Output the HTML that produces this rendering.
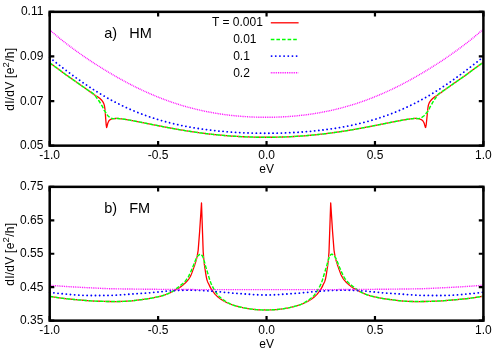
<!DOCTYPE html>
<html><head><meta charset="utf-8"><title>dI/dV</title>
<style>
html,body{margin:0;padding:0;background:#fff;}
svg{display:block;}
text{font-family:"Liberation Sans",sans-serif;font-size:12px;fill:#000;}
.big{font-size:14.5px;white-space:pre;}
</style></head><body>
<svg width="500" height="350" viewBox="0 0 500 350">
<rect width="500" height="350" fill="#fff"/>
<g>
<path d="M49.70,62.85 L50.20,63.21 L50.70,63.57 L51.20,63.93 L51.30,64.00 L51.70,64.29 L52.20,64.65 L52.70,65.01 L53.20,65.37 L53.70,65.73 L54.20,66.09 L54.70,66.46 L55.20,66.82 L55.70,67.18 L56.20,67.55 L56.70,67.91 L57.20,68.28 L57.70,68.65 L58.20,69.01 L58.70,69.38 L59.00,69.60 L59.20,69.75 L59.70,70.12 L60.20,70.49 L60.70,70.86 L61.20,71.24 L61.70,71.61 L62.20,71.99 L62.70,72.36 L63.20,72.74 L63.70,73.11 L64.20,73.48 L64.70,73.85 L65.20,74.22 L65.70,74.58 L66.00,74.80 L66.20,74.94 L66.70,75.30 L67.20,75.66 L67.70,76.01 L68.20,76.36 L68.70,76.71 L69.20,77.06 L69.70,77.41 L70.20,77.75 L70.70,78.10 L71.20,78.45 L71.70,78.79 L72.20,79.14 L72.70,79.49 L73.00,79.70 L73.20,79.84 L73.70,80.19 L74.20,80.54 L74.70,80.89 L75.20,81.24 L75.70,81.59 L76.20,81.94 L76.70,82.29 L77.20,82.64 L77.70,82.99 L78.20,83.34 L78.70,83.69 L79.20,84.04 L79.70,84.39 L80.00,84.60 L80.20,84.74 L80.70,85.09 L81.20,85.44 L81.70,85.79 L82.20,86.13 L82.70,86.48 L83.20,86.83 L83.70,87.18 L84.20,87.53 L84.70,87.88 L85.20,88.23 L85.70,88.58 L86.20,88.93 L86.70,89.29 L87.00,89.50 L87.20,89.64 L87.70,90.00 L88.20,90.37 L88.70,90.74 L89.20,91.11 L89.70,91.49 L90.20,91.86 L90.70,92.24 L91.20,92.61 L91.70,92.99 L92.20,93.35 L92.70,93.72 L93.20,94.07 L93.70,94.43 L94.20,94.77 L94.70,95.10 L95.00,95.30 L95.20,95.43 L95.70,95.73 L96.20,96.02 L96.70,96.30 L97.20,96.59 L97.70,96.90 L98.00,97.10 L98.20,97.24 L98.70,97.59 L99.20,97.95 L99.70,98.34 L100.20,98.76 L100.70,99.21 L101.00,99.50 L101.20,99.70 L101.70,100.24 L102.20,100.84 L102.70,101.55 L103.10,102.20 L103.20,102.38 L103.70,103.41 L104.20,104.84 L104.30,105.20 L104.70,107.34 L104.90,108.80 L105.20,111.82 L105.30,113.00 L105.70,118.73 L105.80,120.00 L106.20,124.89 L106.60,127.50 L106.70,127.43 L107.20,125.70 L107.70,123.60 L108.20,122.27 L108.70,121.20 L108.90,120.90 L109.20,120.54 L109.70,120.05 L110.20,119.66 L110.70,119.40 L111.20,119.21 L111.70,119.05 L112.20,118.91 L112.70,118.80 L113.20,118.72 L113.40,118.70 L113.70,118.67 L114.20,118.61 L114.70,118.57 L115.20,118.52 L115.70,118.49 L116.20,118.47 L116.70,118.45 L117.00,118.45 L117.20,118.45 L117.70,118.47 L118.20,118.51 L118.70,118.56 L119.20,118.61 L119.70,118.67 L120.00,118.70 L120.20,118.72 L120.70,118.77 L121.20,118.83 L121.70,118.89 L122.20,118.95 L122.70,119.02 L123.20,119.09 L123.70,119.16 L124.20,119.23 L124.70,119.30 L125.20,119.38 L125.70,119.45 L126.00,119.50 L126.20,119.53 L126.70,119.61 L127.20,119.69 L127.70,119.78 L128.20,119.87 L128.70,119.96 L129.20,120.05 L129.70,120.14 L130.20,120.24 L130.70,120.33 L131.20,120.43 L131.70,120.52 L132.00,120.58 L132.20,120.61 L132.70,120.71 L133.20,120.80 L133.70,120.89 L134.20,120.99 L134.70,121.08 L135.20,121.18 L135.70,121.27 L136.20,121.37 L136.70,121.46 L137.20,121.56 L137.70,121.66 L138.20,121.75 L138.70,121.85 L139.20,121.95 L139.70,122.04 L140.00,122.10 L140.20,122.14 L140.70,122.24 L141.20,122.33 L141.70,122.43 L142.20,122.53 L142.70,122.63 L143.20,122.73 L143.70,122.83 L144.20,122.93 L144.70,123.03 L145.20,123.13 L145.70,123.23 L146.20,123.33 L146.70,123.42 L147.20,123.52 L147.70,123.62 L148.00,123.68 L148.20,123.72 L148.70,123.82 L149.20,123.92 L149.70,124.02 L150.20,124.12 L150.70,124.22 L151.20,124.32 L151.70,124.42 L152.20,124.52 L152.70,124.62 L153.20,124.72 L153.70,124.82 L154.20,124.92 L154.70,125.02 L155.20,125.12 L155.70,125.22 L156.00,125.28 L156.20,125.31 L156.70,125.41 L157.20,125.51 L157.70,125.61 L158.20,125.71 L158.70,125.81 L159.20,125.90 L159.70,126.00 L160.20,126.10 L160.70,126.20 L161.20,126.30 L161.70,126.39 L162.20,126.49 L162.70,126.59 L163.20,126.68 L163.70,126.78 L164.00,126.84 L164.20,126.88 L164.70,126.97 L165.20,127.07 L165.70,127.16 L166.20,127.26 L166.70,127.35 L167.20,127.45 L167.70,127.54 L168.20,127.63 L168.70,127.73 L169.20,127.82 L169.70,127.91 L170.20,128.01 L170.70,128.10 L171.20,128.19 L171.70,128.28 L172.00,128.34 L172.20,128.37 L172.70,128.46 L173.20,128.56 L173.70,128.65 L174.20,128.74 L174.70,128.83 L175.20,128.92 L175.70,129.00 L176.20,129.09 L176.70,129.18 L177.20,129.27 L177.70,129.36 L178.20,129.44 L178.70,129.53 L179.20,129.62 L179.70,129.70 L180.00,129.75 L180.20,129.79 L180.70,129.87 L181.20,129.96 L181.70,130.04 L182.20,130.13 L182.70,130.21 L183.20,130.29 L183.70,130.38 L184.20,130.46 L184.70,130.54 L185.20,130.62 L185.70,130.70 L186.20,130.78 L186.70,130.86 L187.20,130.94 L187.70,131.02 L188.00,131.07 L188.20,131.10 L188.70,131.18 L189.20,131.26 L189.70,131.33 L190.20,131.41 L190.70,131.49 L191.20,131.56 L191.70,131.64 L192.20,131.71 L192.70,131.79 L193.20,131.86 L193.70,131.94 L194.20,132.01 L194.70,132.08 L195.20,132.15 L195.70,132.23 L196.00,132.27 L196.20,132.30 L196.70,132.37 L197.20,132.44 L197.70,132.51 L198.20,132.58 L198.70,132.65 L199.20,132.71 L199.70,132.78 L200.20,132.85 L200.70,132.92 L201.20,132.98 L201.70,133.05 L202.20,133.11 L202.70,133.18 L203.20,133.24 L203.70,133.31 L204.00,133.35 L204.20,133.37 L204.70,133.43 L205.20,133.50 L205.70,133.56 L206.20,133.62 L206.70,133.68 L207.20,133.74 L207.70,133.80 L208.20,133.86 L208.70,133.92 L209.20,133.98 L209.70,134.03 L210.20,134.09 L210.70,134.15 L211.20,134.21 L211.70,134.26 L212.00,134.29 L212.20,134.32 L212.70,134.37 L213.20,134.42 L213.70,134.48 L214.20,134.53 L214.70,134.58 L215.20,134.64 L215.70,134.69 L216.20,134.74 L216.70,134.79 L217.20,134.84 L217.70,134.89 L218.20,134.94 L218.70,134.99 L219.20,135.04 L219.70,135.08 L220.00,135.11 L220.20,135.13 L220.70,135.18 L221.20,135.22 L221.70,135.27 L222.20,135.31 L222.70,135.36 L223.20,135.40 L223.70,135.45 L224.20,135.49 L224.70,135.53 L225.20,135.57 L225.70,135.62 L226.20,135.66 L226.70,135.70 L227.20,135.74 L227.70,135.78 L228.00,135.80 L228.20,135.81 L228.70,135.85 L229.20,135.89 L229.70,135.93 L230.20,135.96 L230.70,136.00 L231.20,136.04 L231.70,136.07 L232.20,136.11 L232.70,136.14 L233.20,136.17 L233.70,136.21 L234.20,136.24 L234.70,136.27 L235.20,136.30 L235.70,136.33 L236.00,136.35 L236.20,136.36 L236.70,136.39 L237.20,136.42 L237.70,136.45 L238.20,136.48 L238.70,136.51 L239.20,136.54 L239.70,136.56 L240.20,136.59 L240.70,136.62 L241.20,136.64 L241.70,136.67 L242.20,136.69 L242.70,136.72 L243.20,136.74 L243.70,136.76 L244.00,136.78 L244.20,136.78 L244.70,136.81 L245.20,136.83 L245.70,136.85 L246.20,136.87 L246.70,136.89 L247.20,136.91 L247.70,136.93 L248.20,136.95 L248.70,136.96 L249.20,136.98 L249.70,137.00 L250.20,137.02 L250.70,137.03 L251.20,137.05 L251.70,137.06 L252.00,137.07 L252.20,137.07 L252.70,137.09 L253.20,137.10 L253.70,137.11 L254.20,137.12 L254.70,137.14 L255.20,137.15 L255.70,137.16 L256.20,137.17 L256.70,137.18 L257.20,137.19 L257.70,137.20 L258.20,137.21 L258.70,137.22 L259.20,137.22 L259.70,137.23 L260.00,137.23 L260.20,137.23 L260.70,137.24 L261.20,137.24 L261.70,137.25 L262.20,137.25 L262.70,137.25 L263.20,137.26 L263.70,137.26 L264.20,137.26 L264.70,137.27 L265.20,137.27 L265.70,137.27 L266.10,137.27 L266.50,137.27 L267.00,137.27 L267.50,137.27 L268.00,137.26 L268.50,137.26 L269.00,137.26 L269.50,137.25 L270.00,137.25 L270.50,137.25 L271.00,137.24 L271.50,137.24 L272.00,137.23 L272.20,137.23 L272.50,137.23 L273.00,137.22 L273.50,137.22 L274.00,137.21 L274.50,137.20 L275.00,137.19 L275.50,137.18 L276.00,137.17 L276.50,137.16 L277.00,137.15 L277.50,137.14 L278.00,137.12 L278.50,137.11 L279.00,137.10 L279.50,137.09 L280.00,137.07 L280.20,137.07 L280.50,137.06 L281.00,137.05 L281.50,137.03 L282.00,137.02 L282.50,137.00 L283.00,136.98 L283.50,136.96 L284.00,136.95 L284.50,136.93 L285.00,136.91 L285.50,136.89 L286.00,136.87 L286.50,136.85 L287.00,136.83 L287.50,136.81 L288.00,136.78 L288.20,136.78 L288.50,136.76 L289.00,136.74 L289.50,136.72 L290.00,136.69 L290.50,136.67 L291.00,136.64 L291.50,136.62 L292.00,136.59 L292.50,136.56 L293.00,136.54 L293.50,136.51 L294.00,136.48 L294.50,136.45 L295.00,136.42 L295.50,136.39 L296.00,136.36 L296.20,136.35 L296.50,136.33 L297.00,136.30 L297.50,136.27 L298.00,136.24 L298.50,136.21 L299.00,136.17 L299.50,136.14 L300.00,136.11 L300.50,136.07 L301.00,136.04 L301.50,136.00 L302.00,135.96 L302.50,135.93 L303.00,135.89 L303.50,135.85 L304.00,135.81 L304.20,135.80 L304.50,135.78 L305.00,135.74 L305.50,135.70 L306.00,135.66 L306.50,135.62 L307.00,135.57 L307.50,135.53 L308.00,135.49 L308.50,135.45 L309.00,135.40 L309.50,135.36 L310.00,135.31 L310.50,135.27 L311.00,135.22 L311.50,135.18 L312.00,135.13 L312.20,135.11 L312.50,135.08 L313.00,135.04 L313.50,134.99 L314.00,134.94 L314.50,134.89 L315.00,134.84 L315.50,134.79 L316.00,134.74 L316.50,134.69 L317.00,134.64 L317.50,134.58 L318.00,134.53 L318.50,134.48 L319.00,134.42 L319.50,134.37 L320.00,134.32 L320.20,134.29 L320.50,134.26 L321.00,134.21 L321.50,134.15 L322.00,134.09 L322.50,134.03 L323.00,133.98 L323.50,133.92 L324.00,133.86 L324.50,133.80 L325.00,133.74 L325.50,133.68 L326.00,133.62 L326.50,133.56 L327.00,133.50 L327.50,133.43 L328.00,133.37 L328.20,133.35 L328.50,133.31 L329.00,133.24 L329.50,133.18 L330.00,133.11 L330.50,133.05 L331.00,132.98 L331.50,132.92 L332.00,132.85 L332.50,132.78 L333.00,132.71 L333.50,132.65 L334.00,132.58 L334.50,132.51 L335.00,132.44 L335.50,132.37 L336.00,132.30 L336.20,132.27 L336.50,132.23 L337.00,132.15 L337.50,132.08 L338.00,132.01 L338.50,131.94 L339.00,131.86 L339.50,131.79 L340.00,131.71 L340.50,131.64 L341.00,131.56 L341.50,131.49 L342.00,131.41 L342.50,131.33 L343.00,131.26 L343.50,131.18 L344.00,131.10 L344.20,131.07 L344.50,131.02 L345.00,130.94 L345.50,130.86 L346.00,130.78 L346.50,130.70 L347.00,130.62 L347.50,130.54 L348.00,130.46 L348.50,130.38 L349.00,130.29 L349.50,130.21 L350.00,130.13 L350.50,130.04 L351.00,129.96 L351.50,129.87 L352.00,129.79 L352.20,129.75 L352.50,129.70 L353.00,129.62 L353.50,129.53 L354.00,129.44 L354.50,129.36 L355.00,129.27 L355.50,129.18 L356.00,129.09 L356.50,129.00 L357.00,128.92 L357.50,128.83 L358.00,128.74 L358.50,128.65 L359.00,128.56 L359.50,128.46 L360.00,128.37 L360.20,128.34 L360.50,128.28 L361.00,128.19 L361.50,128.10 L362.00,128.01 L362.50,127.91 L363.00,127.82 L363.50,127.73 L364.00,127.63 L364.50,127.54 L365.00,127.45 L365.50,127.35 L366.00,127.26 L366.50,127.16 L367.00,127.07 L367.50,126.97 L368.00,126.88 L368.20,126.84 L368.50,126.78 L369.00,126.68 L369.50,126.59 L370.00,126.49 L370.50,126.39 L371.00,126.30 L371.50,126.20 L372.00,126.10 L372.50,126.00 L373.00,125.90 L373.50,125.81 L374.00,125.71 L374.50,125.61 L375.00,125.51 L375.50,125.41 L376.00,125.31 L376.20,125.28 L376.50,125.22 L377.00,125.12 L377.50,125.02 L378.00,124.92 L378.50,124.82 L379.00,124.72 L379.50,124.62 L380.00,124.52 L380.50,124.42 L381.00,124.32 L381.50,124.22 L382.00,124.12 L382.50,124.02 L383.00,123.92 L383.50,123.82 L384.00,123.72 L384.20,123.68 L384.50,123.62 L385.00,123.52 L385.50,123.42 L386.00,123.33 L386.50,123.23 L387.00,123.13 L387.50,123.03 L388.00,122.93 L388.50,122.83 L389.00,122.73 L389.50,122.63 L390.00,122.53 L390.50,122.43 L391.00,122.33 L391.50,122.24 L392.00,122.14 L392.20,122.10 L392.50,122.04 L393.00,121.95 L393.50,121.85 L394.00,121.75 L394.50,121.66 L395.00,121.56 L395.50,121.46 L396.00,121.37 L396.50,121.27 L397.00,121.18 L397.50,121.08 L398.00,120.99 L398.50,120.89 L399.00,120.80 L399.50,120.71 L400.00,120.61 L400.20,120.58 L400.50,120.52 L401.00,120.43 L401.50,120.33 L402.00,120.24 L402.50,120.14 L403.00,120.05 L403.50,119.96 L404.00,119.87 L404.50,119.78 L405.00,119.69 L405.50,119.61 L406.00,119.53 L406.20,119.50 L406.50,119.45 L407.00,119.38 L407.50,119.30 L408.00,119.23 L408.50,119.16 L409.00,119.09 L409.50,119.02 L410.00,118.95 L410.50,118.89 L411.00,118.83 L411.50,118.77 L412.00,118.72 L412.19,118.70 L412.48,118.67 L412.95,118.61 L413.43,118.56 L413.90,118.51 L414.38,118.47 L414.85,118.45 L415.04,118.45 L415.33,118.45 L415.80,118.47 L416.28,118.49 L416.75,118.52 L417.23,118.57 L417.70,118.61 L418.08,118.67 L418.31,118.70 L418.47,118.72 L418.85,118.80 L419.23,118.91 L419.62,119.05 L420.00,119.21 L420.63,119.40 L421.25,119.66 L421.88,120.05 L422.50,120.54 L422.86,120.90 L423.10,121.20 L423.70,122.27 L424.30,123.60 L424.90,125.70 L425.50,127.43 L425.63,127.50 L426.17,124.89 L426.70,120.00 L426.83,118.73 L427.37,113.00 L427.50,111.82 L427.80,108.80 L428.00,107.34 L428.40,105.20 L428.50,104.84 L429.00,103.41 L429.50,102.38 L429.60,102.20 L430.00,101.55 L430.50,100.84 L431.00,100.24 L431.50,99.70 L431.69,99.50 L431.96,99.21 L432.43,98.76 L432.89,98.34 L433.36,97.95 L433.82,97.59 L434.29,97.24 L434.47,97.10 L434.75,96.90 L435.21,96.59 L435.68,96.30 L436.14,96.02 L436.61,95.73 L437.07,95.43 L437.26,95.30 L437.54,95.10 L438.00,94.77 L438.50,94.43 L439.00,94.07 L439.50,93.72 L440.00,93.35 L440.50,92.99 L441.00,92.61 L441.50,92.24 L442.00,91.86 L442.50,91.49 L443.00,91.11 L443.50,90.74 L444.00,90.37 L444.50,90.00 L445.00,89.64 L445.20,89.50 L445.50,89.29 L446.00,88.93 L446.50,88.58 L447.00,88.23 L447.50,87.88 L448.00,87.53 L448.50,87.18 L449.00,86.83 L449.50,86.48 L450.00,86.13 L450.50,85.79 L451.00,85.44 L451.50,85.09 L452.00,84.74 L452.20,84.60 L452.50,84.39 L453.00,84.04 L453.50,83.69 L454.00,83.34 L454.50,82.99 L455.00,82.64 L455.50,82.29 L456.00,81.94 L456.50,81.59 L457.00,81.24 L457.50,80.89 L458.00,80.54 L458.50,80.19 L459.00,79.84 L459.20,79.70 L459.50,79.49 L460.00,79.14 L460.50,78.79 L461.00,78.45 L461.50,78.10 L462.00,77.75 L462.50,77.41 L463.00,77.06 L463.50,76.71 L464.00,76.36 L464.50,76.01 L465.00,75.66 L465.50,75.30 L466.00,74.94 L466.20,74.80 L466.50,74.58 L467.00,74.22 L467.50,73.85 L468.00,73.48 L468.50,73.11 L469.00,72.74 L469.50,72.36 L470.00,71.99 L470.50,71.61 L471.00,71.24 L471.50,70.86 L472.00,70.49 L472.50,70.12 L473.00,69.75 L473.20,69.60 L473.50,69.38 L474.00,69.01 L474.50,68.65 L475.00,68.28 L475.50,67.91 L476.00,67.55 L476.50,67.18 L477.00,66.82 L477.50,66.46 L478.00,66.09 L478.50,65.73 L479.00,65.37 L479.50,65.01 L480.00,64.65 L480.50,64.29 L480.90,64.00 L481.00,63.93 L481.50,63.57 L482.00,63.21 L482.50,62.85" fill="none" stroke="#ff0000" stroke-width="1.3" stroke-linejoin="round"/>
<path d="M49.70,62.85 L50.20,63.21 L50.70,63.57 L51.20,63.93 L51.30,64.00 L51.70,64.29 L52.20,64.65 L52.70,65.01 L53.20,65.37 L53.70,65.73 L54.20,66.09 L54.70,66.46 L55.20,66.82 L55.70,67.18 L56.20,67.55 L56.70,67.91 L57.20,68.28 L57.70,68.65 L58.20,69.01 L58.70,69.38 L59.00,69.60 L59.20,69.75 L59.70,70.12 L60.20,70.49 L60.70,70.86 L61.20,71.24 L61.70,71.61 L62.20,71.99 L62.70,72.36 L63.20,72.74 L63.70,73.11 L64.20,73.48 L64.70,73.85 L65.20,74.22 L65.70,74.58 L66.00,74.80 L66.20,74.94 L66.70,75.30 L67.20,75.66 L67.70,76.01 L68.20,76.36 L68.70,76.71 L69.20,77.06 L69.70,77.41 L70.20,77.75 L70.70,78.10 L71.20,78.45 L71.70,78.79 L72.20,79.14 L72.70,79.49 L73.00,79.70 L73.20,79.84 L73.70,80.19 L74.20,80.54 L74.70,80.89 L75.20,81.24 L75.70,81.59 L76.20,81.94 L76.70,82.29 L77.20,82.64 L77.70,82.99 L78.20,83.34 L78.70,83.69 L79.20,84.04 L79.70,84.39 L80.00,84.60 L80.20,84.74 L80.70,85.09 L81.20,85.44 L81.70,85.79 L82.20,86.13 L82.70,86.48 L83.20,86.83 L83.70,87.18 L84.20,87.53 L84.70,87.88 L85.20,88.23 L85.70,88.58 L86.20,88.93 L86.70,89.29 L87.00,89.50 L87.20,89.64 L87.70,89.98 L88.20,90.31 L88.70,90.62 L89.20,90.94 L89.70,91.24 L90.20,91.55 L90.70,91.87 L91.20,92.19 L91.70,92.52 L92.20,92.87 L92.70,93.24 L93.20,93.63 L93.70,94.05 L94.20,94.51 L94.70,94.99 L95.00,95.30 L95.20,95.53 L95.70,96.26 L96.20,97.08 L96.70,97.86 L96.80,98.00 L97.20,98.51 L97.70,99.11 L98.00,99.50 L98.20,99.77 L98.70,100.49 L99.20,101.25 L99.70,102.04 L99.80,102.20 L100.20,102.88 L100.70,103.77 L101.00,104.30 L101.20,104.63 L101.70,105.43 L102.20,106.22 L102.70,107.11 L102.80,107.30 L103.20,108.23 L103.70,109.40 L104.20,110.26 L104.70,110.99 L105.20,111.70 L105.60,112.30 L105.70,112.46 L106.20,113.33 L106.70,114.16 L106.80,114.30 L107.20,114.84 L107.70,115.47 L108.20,116.03 L108.70,116.53 L108.90,116.70 L109.20,116.95 L109.70,117.33 L110.20,117.65 L110.70,117.90 L111.20,118.10 L111.70,118.29 L112.20,118.46 L112.70,118.58 L113.20,118.64 L113.40,118.65 L113.70,118.65 L114.20,118.62 L114.70,118.59 L115.20,118.55 L115.70,118.51 L116.20,118.48 L116.70,118.45 L117.00,118.45 L117.20,118.45 L117.70,118.47 L118.20,118.51 L118.70,118.56 L119.20,118.61 L119.70,118.67 L120.00,118.70 L120.20,118.72 L120.70,118.77 L121.20,118.83 L121.70,118.89 L122.20,118.95 L122.70,119.02 L123.20,119.09 L123.70,119.16 L124.20,119.23 L124.70,119.30 L125.20,119.38 L125.70,119.45 L126.00,119.50 L126.20,119.53 L126.70,119.61 L127.20,119.69 L127.70,119.78 L128.20,119.87 L128.70,119.96 L129.20,120.05 L129.70,120.14 L130.20,120.24 L130.70,120.33 L131.20,120.43 L131.70,120.52 L132.00,120.58 L132.20,120.61 L132.70,120.71 L133.20,120.80 L133.70,120.89 L134.20,120.99 L134.70,121.08 L135.20,121.18 L135.70,121.27 L136.20,121.37 L136.70,121.46 L137.20,121.56 L137.70,121.66 L138.20,121.75 L138.70,121.85 L139.20,121.95 L139.70,122.04 L140.00,122.10 L140.20,122.14 L140.70,122.24 L141.20,122.33 L141.70,122.43 L142.20,122.53 L142.70,122.63 L143.20,122.73 L143.70,122.83 L144.20,122.93 L144.70,123.03 L145.20,123.13 L145.70,123.23 L146.20,123.33 L146.70,123.42 L147.20,123.52 L147.70,123.62 L148.00,123.68 L148.20,123.72 L148.70,123.82 L149.20,123.92 L149.70,124.02 L150.20,124.12 L150.70,124.22 L151.20,124.32 L151.70,124.42 L152.20,124.52 L152.70,124.62 L153.20,124.72 L153.70,124.82 L154.20,124.92 L154.70,125.02 L155.20,125.12 L155.70,125.22 L156.00,125.28 L156.20,125.31 L156.70,125.41 L157.20,125.51 L157.70,125.61 L158.20,125.71 L158.70,125.81 L159.20,125.90 L159.70,126.00 L160.20,126.10 L160.70,126.20 L161.20,126.30 L161.70,126.39 L162.20,126.49 L162.70,126.59 L163.20,126.68 L163.70,126.78 L164.00,126.84 L164.20,126.88 L164.70,126.97 L165.20,127.07 L165.70,127.16 L166.20,127.26 L166.70,127.35 L167.20,127.45 L167.70,127.54 L168.20,127.63 L168.70,127.73 L169.20,127.82 L169.70,127.91 L170.20,128.01 L170.70,128.10 L171.20,128.19 L171.70,128.28 L172.00,128.34 L172.20,128.37 L172.70,128.46 L173.20,128.56 L173.70,128.65 L174.20,128.74 L174.70,128.83 L175.20,128.92 L175.70,129.00 L176.20,129.09 L176.70,129.18 L177.20,129.27 L177.70,129.36 L178.20,129.44 L178.70,129.53 L179.20,129.62 L179.70,129.70 L180.00,129.75 L180.20,129.79 L180.70,129.87 L181.20,129.96 L181.70,130.04 L182.20,130.13 L182.70,130.21 L183.20,130.29 L183.70,130.38 L184.20,130.46 L184.70,130.54 L185.20,130.62 L185.70,130.70 L186.20,130.78 L186.70,130.86 L187.20,130.94 L187.70,131.02 L188.00,131.07 L188.20,131.10 L188.70,131.18 L189.20,131.26 L189.70,131.33 L190.20,131.41 L190.70,131.49 L191.20,131.56 L191.70,131.64 L192.20,131.71 L192.70,131.79 L193.20,131.86 L193.70,131.94 L194.20,132.01 L194.70,132.08 L195.20,132.15 L195.70,132.23 L196.00,132.27 L196.20,132.30 L196.70,132.37 L197.20,132.44 L197.70,132.51 L198.20,132.58 L198.70,132.65 L199.20,132.71 L199.70,132.78 L200.20,132.85 L200.70,132.92 L201.20,132.98 L201.70,133.05 L202.20,133.11 L202.70,133.18 L203.20,133.24 L203.70,133.31 L204.00,133.35 L204.20,133.37 L204.70,133.43 L205.20,133.50 L205.70,133.56 L206.20,133.62 L206.70,133.68 L207.20,133.74 L207.70,133.80 L208.20,133.86 L208.70,133.92 L209.20,133.98 L209.70,134.03 L210.20,134.09 L210.70,134.15 L211.20,134.21 L211.70,134.26 L212.00,134.29 L212.20,134.32 L212.70,134.37 L213.20,134.42 L213.70,134.48 L214.20,134.53 L214.70,134.58 L215.20,134.64 L215.70,134.69 L216.20,134.74 L216.70,134.79 L217.20,134.84 L217.70,134.89 L218.20,134.94 L218.70,134.99 L219.20,135.04 L219.70,135.08 L220.00,135.11 L220.20,135.13 L220.70,135.18 L221.20,135.22 L221.70,135.27 L222.20,135.31 L222.70,135.36 L223.20,135.40 L223.70,135.45 L224.20,135.49 L224.70,135.53 L225.20,135.57 L225.70,135.62 L226.20,135.66 L226.70,135.70 L227.20,135.74 L227.70,135.78 L228.00,135.80 L228.20,135.81 L228.70,135.85 L229.20,135.89 L229.70,135.93 L230.20,135.96 L230.70,136.00 L231.20,136.04 L231.70,136.07 L232.20,136.11 L232.70,136.14 L233.20,136.17 L233.70,136.21 L234.20,136.24 L234.70,136.27 L235.20,136.30 L235.70,136.33 L236.00,136.35 L236.20,136.36 L236.70,136.39 L237.20,136.42 L237.70,136.45 L238.20,136.48 L238.70,136.51 L239.20,136.54 L239.70,136.56 L240.20,136.59 L240.70,136.62 L241.20,136.64 L241.70,136.67 L242.20,136.69 L242.70,136.72 L243.20,136.74 L243.70,136.76 L244.00,136.78 L244.20,136.78 L244.70,136.81 L245.20,136.83 L245.70,136.85 L246.20,136.87 L246.70,136.89 L247.20,136.91 L247.70,136.93 L248.20,136.95 L248.70,136.96 L249.20,136.98 L249.70,137.00 L250.20,137.02 L250.70,137.03 L251.20,137.05 L251.70,137.06 L252.00,137.07 L252.20,137.07 L252.70,137.09 L253.20,137.10 L253.70,137.11 L254.20,137.12 L254.70,137.14 L255.20,137.15 L255.70,137.16 L256.20,137.17 L256.70,137.18 L257.20,137.19 L257.70,137.20 L258.20,137.21 L258.70,137.22 L259.20,137.22 L259.70,137.23 L260.00,137.23 L260.20,137.23 L260.70,137.24 L261.20,137.24 L261.70,137.25 L262.20,137.25 L262.70,137.25 L263.20,137.26 L263.70,137.26 L264.20,137.26 L264.70,137.27 L265.20,137.27 L265.70,137.27 L266.10,137.27 L266.50,137.27 L267.00,137.27 L267.50,137.27 L268.00,137.26 L268.50,137.26 L269.00,137.26 L269.50,137.25 L270.00,137.25 L270.50,137.25 L271.00,137.24 L271.50,137.24 L272.00,137.23 L272.20,137.23 L272.50,137.23 L273.00,137.22 L273.50,137.22 L274.00,137.21 L274.50,137.20 L275.00,137.19 L275.50,137.18 L276.00,137.17 L276.50,137.16 L277.00,137.15 L277.50,137.14 L278.00,137.12 L278.50,137.11 L279.00,137.10 L279.50,137.09 L280.00,137.07 L280.20,137.07 L280.50,137.06 L281.00,137.05 L281.50,137.03 L282.00,137.02 L282.50,137.00 L283.00,136.98 L283.50,136.96 L284.00,136.95 L284.50,136.93 L285.00,136.91 L285.50,136.89 L286.00,136.87 L286.50,136.85 L287.00,136.83 L287.50,136.81 L288.00,136.78 L288.20,136.78 L288.50,136.76 L289.00,136.74 L289.50,136.72 L290.00,136.69 L290.50,136.67 L291.00,136.64 L291.50,136.62 L292.00,136.59 L292.50,136.56 L293.00,136.54 L293.50,136.51 L294.00,136.48 L294.50,136.45 L295.00,136.42 L295.50,136.39 L296.00,136.36 L296.20,136.35 L296.50,136.33 L297.00,136.30 L297.50,136.27 L298.00,136.24 L298.50,136.21 L299.00,136.17 L299.50,136.14 L300.00,136.11 L300.50,136.07 L301.00,136.04 L301.50,136.00 L302.00,135.96 L302.50,135.93 L303.00,135.89 L303.50,135.85 L304.00,135.81 L304.20,135.80 L304.50,135.78 L305.00,135.74 L305.50,135.70 L306.00,135.66 L306.50,135.62 L307.00,135.57 L307.50,135.53 L308.00,135.49 L308.50,135.45 L309.00,135.40 L309.50,135.36 L310.00,135.31 L310.50,135.27 L311.00,135.22 L311.50,135.18 L312.00,135.13 L312.20,135.11 L312.50,135.08 L313.00,135.04 L313.50,134.99 L314.00,134.94 L314.50,134.89 L315.00,134.84 L315.50,134.79 L316.00,134.74 L316.50,134.69 L317.00,134.64 L317.50,134.58 L318.00,134.53 L318.50,134.48 L319.00,134.42 L319.50,134.37 L320.00,134.32 L320.20,134.29 L320.50,134.26 L321.00,134.21 L321.50,134.15 L322.00,134.09 L322.50,134.03 L323.00,133.98 L323.50,133.92 L324.00,133.86 L324.50,133.80 L325.00,133.74 L325.50,133.68 L326.00,133.62 L326.50,133.56 L327.00,133.50 L327.50,133.43 L328.00,133.37 L328.20,133.35 L328.50,133.31 L329.00,133.24 L329.50,133.18 L330.00,133.11 L330.50,133.05 L331.00,132.98 L331.50,132.92 L332.00,132.85 L332.50,132.78 L333.00,132.71 L333.50,132.65 L334.00,132.58 L334.50,132.51 L335.00,132.44 L335.50,132.37 L336.00,132.30 L336.20,132.27 L336.50,132.23 L337.00,132.15 L337.50,132.08 L338.00,132.01 L338.50,131.94 L339.00,131.86 L339.50,131.79 L340.00,131.71 L340.50,131.64 L341.00,131.56 L341.50,131.49 L342.00,131.41 L342.50,131.33 L343.00,131.26 L343.50,131.18 L344.00,131.10 L344.20,131.07 L344.50,131.02 L345.00,130.94 L345.50,130.86 L346.00,130.78 L346.50,130.70 L347.00,130.62 L347.50,130.54 L348.00,130.46 L348.50,130.38 L349.00,130.29 L349.50,130.21 L350.00,130.13 L350.50,130.04 L351.00,129.96 L351.50,129.87 L352.00,129.79 L352.20,129.75 L352.50,129.70 L353.00,129.62 L353.50,129.53 L354.00,129.44 L354.50,129.36 L355.00,129.27 L355.50,129.18 L356.00,129.09 L356.50,129.00 L357.00,128.92 L357.50,128.83 L358.00,128.74 L358.50,128.65 L359.00,128.56 L359.50,128.46 L360.00,128.37 L360.20,128.34 L360.50,128.28 L361.00,128.19 L361.50,128.10 L362.00,128.01 L362.50,127.91 L363.00,127.82 L363.50,127.73 L364.00,127.63 L364.50,127.54 L365.00,127.45 L365.50,127.35 L366.00,127.26 L366.50,127.16 L367.00,127.07 L367.50,126.97 L368.00,126.88 L368.20,126.84 L368.50,126.78 L369.00,126.68 L369.50,126.59 L370.00,126.49 L370.50,126.39 L371.00,126.30 L371.50,126.20 L372.00,126.10 L372.50,126.00 L373.00,125.90 L373.50,125.81 L374.00,125.71 L374.50,125.61 L375.00,125.51 L375.50,125.41 L376.00,125.31 L376.20,125.28 L376.50,125.22 L377.00,125.12 L377.50,125.02 L378.00,124.92 L378.50,124.82 L379.00,124.72 L379.50,124.62 L380.00,124.52 L380.50,124.42 L381.00,124.32 L381.50,124.22 L382.00,124.12 L382.50,124.02 L383.00,123.92 L383.50,123.82 L384.00,123.72 L384.20,123.68 L384.50,123.62 L385.00,123.52 L385.50,123.42 L386.00,123.33 L386.50,123.23 L387.00,123.13 L387.50,123.03 L388.00,122.93 L388.50,122.83 L389.00,122.73 L389.50,122.63 L390.00,122.53 L390.50,122.43 L391.00,122.33 L391.50,122.24 L392.00,122.14 L392.20,122.10 L392.50,122.04 L393.00,121.95 L393.50,121.85 L394.00,121.75 L394.50,121.66 L395.00,121.56 L395.50,121.46 L396.00,121.37 L396.50,121.27 L397.00,121.18 L397.50,121.08 L398.00,120.99 L398.50,120.89 L399.00,120.80 L399.50,120.71 L400.00,120.61 L400.20,120.58 L400.50,120.52 L401.00,120.43 L401.50,120.33 L402.00,120.24 L402.50,120.14 L403.00,120.05 L403.50,119.96 L404.00,119.87 L404.50,119.78 L405.00,119.69 L405.50,119.61 L406.00,119.53 L406.20,119.50 L406.50,119.45 L407.00,119.38 L407.50,119.30 L408.00,119.23 L408.50,119.16 L409.00,119.09 L409.50,119.02 L410.00,118.95 L410.50,118.89 L411.00,118.83 L411.50,118.77 L412.00,118.72 L412.19,118.70 L412.48,118.67 L412.95,118.61 L413.43,118.56 L413.90,118.51 L414.38,118.47 L414.85,118.45 L415.04,118.45 L415.33,118.45 L415.80,118.48 L416.28,118.51 L416.75,118.55 L417.23,118.59 L417.70,118.62 L418.08,118.65 L418.31,118.65 L418.47,118.64 L418.85,118.58 L419.23,118.46 L419.62,118.29 L420.00,118.10 L420.63,117.90 L421.25,117.65 L421.88,117.33 L422.50,116.95 L422.86,116.70 L423.10,116.53 L423.70,116.03 L424.30,115.47 L424.90,114.84 L425.38,114.30 L425.50,114.16 L426.17,113.33 L426.83,112.46 L426.97,112.30 L427.50,111.70 L428.00,110.99 L428.50,110.26 L429.00,109.40 L429.50,108.23 L429.90,107.30 L430.00,107.11 L430.50,106.22 L431.00,105.43 L431.50,104.63 L431.69,104.30 L431.96,103.77 L432.43,102.88 L432.80,102.20 L432.89,102.04 L433.36,101.25 L433.82,100.49 L434.29,99.77 L434.47,99.50 L434.75,99.11 L435.21,98.51 L435.59,98.00 L435.68,97.86 L436.14,97.08 L436.61,96.26 L437.07,95.53 L437.26,95.30 L437.54,94.99 L438.00,94.51 L438.50,94.05 L439.00,93.63 L439.50,93.24 L440.00,92.87 L440.50,92.52 L441.00,92.19 L441.50,91.87 L442.00,91.55 L442.50,91.24 L443.00,90.94 L443.50,90.62 L444.00,90.31 L444.50,89.98 L445.00,89.64 L445.20,89.50 L445.50,89.29 L446.00,88.93 L446.50,88.58 L447.00,88.23 L447.50,87.88 L448.00,87.53 L448.50,87.18 L449.00,86.83 L449.50,86.48 L450.00,86.13 L450.50,85.79 L451.00,85.44 L451.50,85.09 L452.00,84.74 L452.20,84.60 L452.50,84.39 L453.00,84.04 L453.50,83.69 L454.00,83.34 L454.50,82.99 L455.00,82.64 L455.50,82.29 L456.00,81.94 L456.50,81.59 L457.00,81.24 L457.50,80.89 L458.00,80.54 L458.50,80.19 L459.00,79.84 L459.20,79.70 L459.50,79.49 L460.00,79.14 L460.50,78.79 L461.00,78.45 L461.50,78.10 L462.00,77.75 L462.50,77.41 L463.00,77.06 L463.50,76.71 L464.00,76.36 L464.50,76.01 L465.00,75.66 L465.50,75.30 L466.00,74.94 L466.20,74.80 L466.50,74.58 L467.00,74.22 L467.50,73.85 L468.00,73.48 L468.50,73.11 L469.00,72.74 L469.50,72.36 L470.00,71.99 L470.50,71.61 L471.00,71.24 L471.50,70.86 L472.00,70.49 L472.50,70.12 L473.00,69.75 L473.20,69.60 L473.50,69.38 L474.00,69.01 L474.50,68.65 L475.00,68.28 L475.50,67.91 L476.00,67.55 L476.50,67.18 L477.00,66.82 L477.50,66.46 L478.00,66.09 L478.50,65.73 L479.00,65.37 L479.50,65.01 L480.00,64.65 L480.50,64.29 L480.90,64.00 L481.00,63.93 L481.50,63.57 L482.00,63.21 L482.50,62.85" fill="none" stroke="#ffffff" stroke-width="1.5" stroke-dasharray="3.9 1.7"/>
<path d="M49.70,62.85 L50.20,63.21 L50.70,63.57 L51.20,63.93 L51.30,64.00 L51.70,64.29 L52.20,64.65 L52.70,65.01 L53.20,65.37 L53.70,65.73 L54.20,66.09 L54.70,66.46 L55.20,66.82 L55.70,67.18 L56.20,67.55 L56.70,67.91 L57.20,68.28 L57.70,68.65 L58.20,69.01 L58.70,69.38 L59.00,69.60 L59.20,69.75 L59.70,70.12 L60.20,70.49 L60.70,70.86 L61.20,71.24 L61.70,71.61 L62.20,71.99 L62.70,72.36 L63.20,72.74 L63.70,73.11 L64.20,73.48 L64.70,73.85 L65.20,74.22 L65.70,74.58 L66.00,74.80 L66.20,74.94 L66.70,75.30 L67.20,75.66 L67.70,76.01 L68.20,76.36 L68.70,76.71 L69.20,77.06 L69.70,77.41 L70.20,77.75 L70.70,78.10 L71.20,78.45 L71.70,78.79 L72.20,79.14 L72.70,79.49 L73.00,79.70 L73.20,79.84 L73.70,80.19 L74.20,80.54 L74.70,80.89 L75.20,81.24 L75.70,81.59 L76.20,81.94 L76.70,82.29 L77.20,82.64 L77.70,82.99 L78.20,83.34 L78.70,83.69 L79.20,84.04 L79.70,84.39 L80.00,84.60 L80.20,84.74 L80.70,85.09 L81.20,85.44 L81.70,85.79 L82.20,86.13 L82.70,86.48 L83.20,86.83 L83.70,87.18 L84.20,87.53 L84.70,87.88 L85.20,88.23 L85.70,88.58 L86.20,88.93 L86.70,89.29 L87.00,89.50 L87.20,89.64 L87.70,89.98 L88.20,90.31 L88.70,90.62 L89.20,90.94 L89.70,91.24 L90.20,91.55 L90.70,91.87 L91.20,92.19 L91.70,92.52 L92.20,92.87 L92.70,93.24 L93.20,93.63 L93.70,94.05 L94.20,94.51 L94.70,94.99 L95.00,95.30 L95.20,95.53 L95.70,96.26 L96.20,97.08 L96.70,97.86 L96.80,98.00 L97.20,98.51 L97.70,99.11 L98.00,99.50 L98.20,99.77 L98.70,100.49 L99.20,101.25 L99.70,102.04 L99.80,102.20 L100.20,102.88 L100.70,103.77 L101.00,104.30 L101.20,104.63 L101.70,105.43 L102.20,106.22 L102.70,107.11 L102.80,107.30 L103.20,108.23 L103.70,109.40 L104.20,110.26 L104.70,110.99 L105.20,111.70 L105.60,112.30 L105.70,112.46 L106.20,113.33 L106.70,114.16 L106.80,114.30 L107.20,114.84 L107.70,115.47 L108.20,116.03 L108.70,116.53 L108.90,116.70 L109.20,116.95 L109.70,117.33 L110.20,117.65 L110.70,117.90 L111.20,118.10 L111.70,118.29 L112.20,118.46 L112.70,118.58 L113.20,118.64 L113.40,118.65 L113.70,118.65 L114.20,118.62 L114.70,118.59 L115.20,118.55 L115.70,118.51 L116.20,118.48 L116.70,118.45 L117.00,118.45 L117.20,118.45 L117.70,118.47 L118.20,118.51 L118.70,118.56 L119.20,118.61 L119.70,118.67 L120.00,118.70 L120.20,118.72 L120.70,118.77 L121.20,118.83 L121.70,118.89 L122.20,118.95 L122.70,119.02 L123.20,119.09 L123.70,119.16 L124.20,119.23 L124.70,119.30 L125.20,119.38 L125.70,119.45 L126.00,119.50 L126.20,119.53 L126.70,119.61 L127.20,119.69 L127.70,119.78 L128.20,119.87 L128.70,119.96 L129.20,120.05 L129.70,120.14 L130.20,120.24 L130.70,120.33 L131.20,120.43 L131.70,120.52 L132.00,120.58 L132.20,120.61 L132.70,120.71 L133.20,120.80 L133.70,120.89 L134.20,120.99 L134.70,121.08 L135.20,121.18 L135.70,121.27 L136.20,121.37 L136.70,121.46 L137.20,121.56 L137.70,121.66 L138.20,121.75 L138.70,121.85 L139.20,121.95 L139.70,122.04 L140.00,122.10 L140.20,122.14 L140.70,122.24 L141.20,122.33 L141.70,122.43 L142.20,122.53 L142.70,122.63 L143.20,122.73 L143.70,122.83 L144.20,122.93 L144.70,123.03 L145.20,123.13 L145.70,123.23 L146.20,123.33 L146.70,123.42 L147.20,123.52 L147.70,123.62 L148.00,123.68 L148.20,123.72 L148.70,123.82 L149.20,123.92 L149.70,124.02 L150.20,124.12 L150.70,124.22 L151.20,124.32 L151.70,124.42 L152.20,124.52 L152.70,124.62 L153.20,124.72 L153.70,124.82 L154.20,124.92 L154.70,125.02 L155.20,125.12 L155.70,125.22 L156.00,125.28 L156.20,125.31 L156.70,125.41 L157.20,125.51 L157.70,125.61 L158.20,125.71 L158.70,125.81 L159.20,125.90 L159.70,126.00 L160.20,126.10 L160.70,126.20 L161.20,126.30 L161.70,126.39 L162.20,126.49 L162.70,126.59 L163.20,126.68 L163.70,126.78 L164.00,126.84 L164.20,126.88 L164.70,126.97 L165.20,127.07 L165.70,127.16 L166.20,127.26 L166.70,127.35 L167.20,127.45 L167.70,127.54 L168.20,127.63 L168.70,127.73 L169.20,127.82 L169.70,127.91 L170.20,128.01 L170.70,128.10 L171.20,128.19 L171.70,128.28 L172.00,128.34 L172.20,128.37 L172.70,128.46 L173.20,128.56 L173.70,128.65 L174.20,128.74 L174.70,128.83 L175.20,128.92 L175.70,129.00 L176.20,129.09 L176.70,129.18 L177.20,129.27 L177.70,129.36 L178.20,129.44 L178.70,129.53 L179.20,129.62 L179.70,129.70 L180.00,129.75 L180.20,129.79 L180.70,129.87 L181.20,129.96 L181.70,130.04 L182.20,130.13 L182.70,130.21 L183.20,130.29 L183.70,130.38 L184.20,130.46 L184.70,130.54 L185.20,130.62 L185.70,130.70 L186.20,130.78 L186.70,130.86 L187.20,130.94 L187.70,131.02 L188.00,131.07 L188.20,131.10 L188.70,131.18 L189.20,131.26 L189.70,131.33 L190.20,131.41 L190.70,131.49 L191.20,131.56 L191.70,131.64 L192.20,131.71 L192.70,131.79 L193.20,131.86 L193.70,131.94 L194.20,132.01 L194.70,132.08 L195.20,132.15 L195.70,132.23 L196.00,132.27 L196.20,132.30 L196.70,132.37 L197.20,132.44 L197.70,132.51 L198.20,132.58 L198.70,132.65 L199.20,132.71 L199.70,132.78 L200.20,132.85 L200.70,132.92 L201.20,132.98 L201.70,133.05 L202.20,133.11 L202.70,133.18 L203.20,133.24 L203.70,133.31 L204.00,133.35 L204.20,133.37 L204.70,133.43 L205.20,133.50 L205.70,133.56 L206.20,133.62 L206.70,133.68 L207.20,133.74 L207.70,133.80 L208.20,133.86 L208.70,133.92 L209.20,133.98 L209.70,134.03 L210.20,134.09 L210.70,134.15 L211.20,134.21 L211.70,134.26 L212.00,134.29 L212.20,134.32 L212.70,134.37 L213.20,134.42 L213.70,134.48 L214.20,134.53 L214.70,134.58 L215.20,134.64 L215.70,134.69 L216.20,134.74 L216.70,134.79 L217.20,134.84 L217.70,134.89 L218.20,134.94 L218.70,134.99 L219.20,135.04 L219.70,135.08 L220.00,135.11 L220.20,135.13 L220.70,135.18 L221.20,135.22 L221.70,135.27 L222.20,135.31 L222.70,135.36 L223.20,135.40 L223.70,135.45 L224.20,135.49 L224.70,135.53 L225.20,135.57 L225.70,135.62 L226.20,135.66 L226.70,135.70 L227.20,135.74 L227.70,135.78 L228.00,135.80 L228.20,135.81 L228.70,135.85 L229.20,135.89 L229.70,135.93 L230.20,135.96 L230.70,136.00 L231.20,136.04 L231.70,136.07 L232.20,136.11 L232.70,136.14 L233.20,136.17 L233.70,136.21 L234.20,136.24 L234.70,136.27 L235.20,136.30 L235.70,136.33 L236.00,136.35 L236.20,136.36 L236.70,136.39 L237.20,136.42 L237.70,136.45 L238.20,136.48 L238.70,136.51 L239.20,136.54 L239.70,136.56 L240.20,136.59 L240.70,136.62 L241.20,136.64 L241.70,136.67 L242.20,136.69 L242.70,136.72 L243.20,136.74 L243.70,136.76 L244.00,136.78 L244.20,136.78 L244.70,136.81 L245.20,136.83 L245.70,136.85 L246.20,136.87 L246.70,136.89 L247.20,136.91 L247.70,136.93 L248.20,136.95 L248.70,136.96 L249.20,136.98 L249.70,137.00 L250.20,137.02 L250.70,137.03 L251.20,137.05 L251.70,137.06 L252.00,137.07 L252.20,137.07 L252.70,137.09 L253.20,137.10 L253.70,137.11 L254.20,137.12 L254.70,137.14 L255.20,137.15 L255.70,137.16 L256.20,137.17 L256.70,137.18 L257.20,137.19 L257.70,137.20 L258.20,137.21 L258.70,137.22 L259.20,137.22 L259.70,137.23 L260.00,137.23 L260.20,137.23 L260.70,137.24 L261.20,137.24 L261.70,137.25 L262.20,137.25 L262.70,137.25 L263.20,137.26 L263.70,137.26 L264.20,137.26 L264.70,137.27 L265.20,137.27 L265.70,137.27 L266.10,137.27 L266.50,137.27 L267.00,137.27 L267.50,137.27 L268.00,137.26 L268.50,137.26 L269.00,137.26 L269.50,137.25 L270.00,137.25 L270.50,137.25 L271.00,137.24 L271.50,137.24 L272.00,137.23 L272.20,137.23 L272.50,137.23 L273.00,137.22 L273.50,137.22 L274.00,137.21 L274.50,137.20 L275.00,137.19 L275.50,137.18 L276.00,137.17 L276.50,137.16 L277.00,137.15 L277.50,137.14 L278.00,137.12 L278.50,137.11 L279.00,137.10 L279.50,137.09 L280.00,137.07 L280.20,137.07 L280.50,137.06 L281.00,137.05 L281.50,137.03 L282.00,137.02 L282.50,137.00 L283.00,136.98 L283.50,136.96 L284.00,136.95 L284.50,136.93 L285.00,136.91 L285.50,136.89 L286.00,136.87 L286.50,136.85 L287.00,136.83 L287.50,136.81 L288.00,136.78 L288.20,136.78 L288.50,136.76 L289.00,136.74 L289.50,136.72 L290.00,136.69 L290.50,136.67 L291.00,136.64 L291.50,136.62 L292.00,136.59 L292.50,136.56 L293.00,136.54 L293.50,136.51 L294.00,136.48 L294.50,136.45 L295.00,136.42 L295.50,136.39 L296.00,136.36 L296.20,136.35 L296.50,136.33 L297.00,136.30 L297.50,136.27 L298.00,136.24 L298.50,136.21 L299.00,136.17 L299.50,136.14 L300.00,136.11 L300.50,136.07 L301.00,136.04 L301.50,136.00 L302.00,135.96 L302.50,135.93 L303.00,135.89 L303.50,135.85 L304.00,135.81 L304.20,135.80 L304.50,135.78 L305.00,135.74 L305.50,135.70 L306.00,135.66 L306.50,135.62 L307.00,135.57 L307.50,135.53 L308.00,135.49 L308.50,135.45 L309.00,135.40 L309.50,135.36 L310.00,135.31 L310.50,135.27 L311.00,135.22 L311.50,135.18 L312.00,135.13 L312.20,135.11 L312.50,135.08 L313.00,135.04 L313.50,134.99 L314.00,134.94 L314.50,134.89 L315.00,134.84 L315.50,134.79 L316.00,134.74 L316.50,134.69 L317.00,134.64 L317.50,134.58 L318.00,134.53 L318.50,134.48 L319.00,134.42 L319.50,134.37 L320.00,134.32 L320.20,134.29 L320.50,134.26 L321.00,134.21 L321.50,134.15 L322.00,134.09 L322.50,134.03 L323.00,133.98 L323.50,133.92 L324.00,133.86 L324.50,133.80 L325.00,133.74 L325.50,133.68 L326.00,133.62 L326.50,133.56 L327.00,133.50 L327.50,133.43 L328.00,133.37 L328.20,133.35 L328.50,133.31 L329.00,133.24 L329.50,133.18 L330.00,133.11 L330.50,133.05 L331.00,132.98 L331.50,132.92 L332.00,132.85 L332.50,132.78 L333.00,132.71 L333.50,132.65 L334.00,132.58 L334.50,132.51 L335.00,132.44 L335.50,132.37 L336.00,132.30 L336.20,132.27 L336.50,132.23 L337.00,132.15 L337.50,132.08 L338.00,132.01 L338.50,131.94 L339.00,131.86 L339.50,131.79 L340.00,131.71 L340.50,131.64 L341.00,131.56 L341.50,131.49 L342.00,131.41 L342.50,131.33 L343.00,131.26 L343.50,131.18 L344.00,131.10 L344.20,131.07 L344.50,131.02 L345.00,130.94 L345.50,130.86 L346.00,130.78 L346.50,130.70 L347.00,130.62 L347.50,130.54 L348.00,130.46 L348.50,130.38 L349.00,130.29 L349.50,130.21 L350.00,130.13 L350.50,130.04 L351.00,129.96 L351.50,129.87 L352.00,129.79 L352.20,129.75 L352.50,129.70 L353.00,129.62 L353.50,129.53 L354.00,129.44 L354.50,129.36 L355.00,129.27 L355.50,129.18 L356.00,129.09 L356.50,129.00 L357.00,128.92 L357.50,128.83 L358.00,128.74 L358.50,128.65 L359.00,128.56 L359.50,128.46 L360.00,128.37 L360.20,128.34 L360.50,128.28 L361.00,128.19 L361.50,128.10 L362.00,128.01 L362.50,127.91 L363.00,127.82 L363.50,127.73 L364.00,127.63 L364.50,127.54 L365.00,127.45 L365.50,127.35 L366.00,127.26 L366.50,127.16 L367.00,127.07 L367.50,126.97 L368.00,126.88 L368.20,126.84 L368.50,126.78 L369.00,126.68 L369.50,126.59 L370.00,126.49 L370.50,126.39 L371.00,126.30 L371.50,126.20 L372.00,126.10 L372.50,126.00 L373.00,125.90 L373.50,125.81 L374.00,125.71 L374.50,125.61 L375.00,125.51 L375.50,125.41 L376.00,125.31 L376.20,125.28 L376.50,125.22 L377.00,125.12 L377.50,125.02 L378.00,124.92 L378.50,124.82 L379.00,124.72 L379.50,124.62 L380.00,124.52 L380.50,124.42 L381.00,124.32 L381.50,124.22 L382.00,124.12 L382.50,124.02 L383.00,123.92 L383.50,123.82 L384.00,123.72 L384.20,123.68 L384.50,123.62 L385.00,123.52 L385.50,123.42 L386.00,123.33 L386.50,123.23 L387.00,123.13 L387.50,123.03 L388.00,122.93 L388.50,122.83 L389.00,122.73 L389.50,122.63 L390.00,122.53 L390.50,122.43 L391.00,122.33 L391.50,122.24 L392.00,122.14 L392.20,122.10 L392.50,122.04 L393.00,121.95 L393.50,121.85 L394.00,121.75 L394.50,121.66 L395.00,121.56 L395.50,121.46 L396.00,121.37 L396.50,121.27 L397.00,121.18 L397.50,121.08 L398.00,120.99 L398.50,120.89 L399.00,120.80 L399.50,120.71 L400.00,120.61 L400.20,120.58 L400.50,120.52 L401.00,120.43 L401.50,120.33 L402.00,120.24 L402.50,120.14 L403.00,120.05 L403.50,119.96 L404.00,119.87 L404.50,119.78 L405.00,119.69 L405.50,119.61 L406.00,119.53 L406.20,119.50 L406.50,119.45 L407.00,119.38 L407.50,119.30 L408.00,119.23 L408.50,119.16 L409.00,119.09 L409.50,119.02 L410.00,118.95 L410.50,118.89 L411.00,118.83 L411.50,118.77 L412.00,118.72 L412.19,118.70 L412.48,118.67 L412.95,118.61 L413.43,118.56 L413.90,118.51 L414.38,118.47 L414.85,118.45 L415.04,118.45 L415.33,118.45 L415.80,118.48 L416.28,118.51 L416.75,118.55 L417.23,118.59 L417.70,118.62 L418.08,118.65 L418.31,118.65 L418.47,118.64 L418.85,118.58 L419.23,118.46 L419.62,118.29 L420.00,118.10 L420.63,117.90 L421.25,117.65 L421.88,117.33 L422.50,116.95 L422.86,116.70 L423.10,116.53 L423.70,116.03 L424.30,115.47 L424.90,114.84 L425.38,114.30 L425.50,114.16 L426.17,113.33 L426.83,112.46 L426.97,112.30 L427.50,111.70 L428.00,110.99 L428.50,110.26 L429.00,109.40 L429.50,108.23 L429.90,107.30 L430.00,107.11 L430.50,106.22 L431.00,105.43 L431.50,104.63 L431.69,104.30 L431.96,103.77 L432.43,102.88 L432.80,102.20 L432.89,102.04 L433.36,101.25 L433.82,100.49 L434.29,99.77 L434.47,99.50 L434.75,99.11 L435.21,98.51 L435.59,98.00 L435.68,97.86 L436.14,97.08 L436.61,96.26 L437.07,95.53 L437.26,95.30 L437.54,94.99 L438.00,94.51 L438.50,94.05 L439.00,93.63 L439.50,93.24 L440.00,92.87 L440.50,92.52 L441.00,92.19 L441.50,91.87 L442.00,91.55 L442.50,91.24 L443.00,90.94 L443.50,90.62 L444.00,90.31 L444.50,89.98 L445.00,89.64 L445.20,89.50 L445.50,89.29 L446.00,88.93 L446.50,88.58 L447.00,88.23 L447.50,87.88 L448.00,87.53 L448.50,87.18 L449.00,86.83 L449.50,86.48 L450.00,86.13 L450.50,85.79 L451.00,85.44 L451.50,85.09 L452.00,84.74 L452.20,84.60 L452.50,84.39 L453.00,84.04 L453.50,83.69 L454.00,83.34 L454.50,82.99 L455.00,82.64 L455.50,82.29 L456.00,81.94 L456.50,81.59 L457.00,81.24 L457.50,80.89 L458.00,80.54 L458.50,80.19 L459.00,79.84 L459.20,79.70 L459.50,79.49 L460.00,79.14 L460.50,78.79 L461.00,78.45 L461.50,78.10 L462.00,77.75 L462.50,77.41 L463.00,77.06 L463.50,76.71 L464.00,76.36 L464.50,76.01 L465.00,75.66 L465.50,75.30 L466.00,74.94 L466.20,74.80 L466.50,74.58 L467.00,74.22 L467.50,73.85 L468.00,73.48 L468.50,73.11 L469.00,72.74 L469.50,72.36 L470.00,71.99 L470.50,71.61 L471.00,71.24 L471.50,70.86 L472.00,70.49 L472.50,70.12 L473.00,69.75 L473.20,69.60 L473.50,69.38 L474.00,69.01 L474.50,68.65 L475.00,68.28 L475.50,67.91 L476.00,67.55 L476.50,67.18 L477.00,66.82 L477.50,66.46 L478.00,66.09 L478.50,65.73 L479.00,65.37 L479.50,65.01 L480.00,64.65 L480.50,64.29 L480.90,64.00 L481.00,63.93 L481.50,63.57 L482.00,63.21 L482.50,62.85" fill="none" stroke="#00ff00" stroke-width="1.45" stroke-dasharray="3.9 1.7"/>
<path d="M49.70,57.61 L50.70,58.41 L51.70,59.20 L52.70,59.99 L53.70,60.77 L54.70,61.56 L55.70,62.35 L56.70,63.13 L57.70,63.91 L58.70,64.69 L59.70,65.47 L60.70,66.24 L61.70,67.02 L62.70,67.79 L63.70,68.56 L64.70,69.32 L65.70,70.08 L66.70,70.84 L67.70,71.59 L68.70,72.35 L69.70,73.09 L70.70,73.84 L71.70,74.58 L72.70,75.32 L73.70,76.05 L74.70,76.78 L75.70,77.50 L76.70,78.22 L77.70,78.94 L78.70,79.65 L79.70,80.36 L80.70,81.06 L81.70,81.76 L82.70,82.45 L83.70,83.14 L84.70,83.83 L85.70,84.51 L86.70,85.18 L87.70,85.85 L88.70,86.51 L89.70,87.17 L90.70,87.83 L91.70,88.48 L92.70,89.12 L93.70,89.76 L94.70,90.39 L95.70,91.02 L96.70,91.64 L97.70,92.26 L98.70,92.87 L99.70,93.48 L100.70,94.08 L101.70,94.67 L102.70,95.26 L103.70,95.85 L104.70,96.43 L105.70,97.00 L106.70,97.57 L107.70,98.13 L108.70,98.69 L109.70,99.24 L110.70,99.78 L111.70,100.33 L112.70,100.86 L113.70,101.39 L114.70,101.91 L115.70,102.43 L116.70,102.94 L117.70,103.45 L118.70,103.95 L119.70,104.45 L120.70,104.94 L121.70,105.43 L122.70,105.91 L123.70,106.38 L124.70,106.85 L125.70,107.31 L126.70,107.77 L127.70,108.23 L128.70,108.67 L129.70,109.12 L130.70,109.55 L131.70,109.99 L132.70,110.41 L133.70,110.83 L134.70,111.25 L135.70,111.66 L136.70,112.07 L137.70,112.47 L138.70,112.86 L139.70,113.25 L140.70,113.64 L141.70,114.02 L142.70,114.40 L143.70,114.77 L144.70,115.13 L145.70,115.49 L146.70,115.85 L147.70,116.20 L148.70,116.55 L149.70,116.89 L150.70,117.23 L151.70,117.56 L152.70,117.89 L153.70,118.21 L154.70,118.53 L155.70,118.84 L156.70,119.15 L157.70,119.46 L158.70,119.76 L159.70,120.05 L160.70,120.34 L161.70,120.63 L162.70,120.92 L163.70,121.19 L164.70,121.47 L165.70,121.74 L166.70,122.01 L167.70,122.27 L168.70,122.53 L169.70,122.78 L170.70,123.03 L171.70,123.28 L172.70,123.52 L173.70,123.76 L174.70,123.99 L175.70,124.23 L176.70,124.45 L177.70,124.68 L178.70,124.90 L179.70,125.11 L180.70,125.32 L181.70,125.53 L182.70,125.74 L183.70,125.94 L184.70,126.14 L185.70,126.33 L186.70,126.52 L187.70,126.71 L188.70,126.90 L189.70,127.08 L190.70,127.26 L191.70,127.43 L192.70,127.60 L193.70,127.77 L194.70,127.94 L195.70,128.10 L196.70,128.26 L197.70,128.42 L198.70,128.57 L199.70,128.72 L200.70,128.87 L201.70,129.01 L202.70,129.15 L203.70,129.29 L204.70,129.43 L205.70,129.56 L206.70,129.69 L207.70,129.82 L208.70,129.94 L209.70,130.06 L210.70,130.18 L211.70,130.30 L212.70,130.41 L213.70,130.52 L214.70,130.63 L215.70,130.74 L216.70,130.84 L217.70,130.94 L218.70,131.04 L219.70,131.14 L220.70,131.23 L221.70,131.32 L222.70,131.41 L223.70,131.50 L224.70,131.59 L225.70,131.67 L226.70,131.75 L227.70,131.83 L228.70,131.90 L229.70,131.97 L230.70,132.05 L231.70,132.11 L232.70,132.18 L233.70,132.25 L234.70,132.31 L235.70,132.37 L236.70,132.43 L237.70,132.48 L238.70,132.54 L239.70,132.59 L240.70,132.64 L241.70,132.69 L242.70,132.73 L243.70,132.78 L244.70,132.82 L245.70,132.86 L246.70,132.90 L247.70,132.93 L248.70,132.97 L249.70,133.00 L250.70,133.03 L251.70,133.06 L252.70,133.08 L253.70,133.11 L254.70,133.13 L255.70,133.15 L256.70,133.17 L257.70,133.18 L258.70,133.20 L259.70,133.21 L260.70,133.22 L261.70,133.23 L262.70,133.24 L263.70,133.24 L264.70,133.25 L265.70,133.25 L266.10,133.25 L266.50,133.25 L267.50,133.25 L268.50,133.24 L269.50,133.24 L270.50,133.23 L271.50,133.22 L272.50,133.21 L273.50,133.20 L274.50,133.18 L275.50,133.17 L276.50,133.15 L277.50,133.13 L278.50,133.11 L279.50,133.08 L280.50,133.06 L281.50,133.03 L282.50,133.00 L283.50,132.97 L284.50,132.93 L285.50,132.90 L286.50,132.86 L287.50,132.82 L288.50,132.78 L289.50,132.73 L290.50,132.69 L291.50,132.64 L292.50,132.59 L293.50,132.54 L294.50,132.48 L295.50,132.43 L296.50,132.37 L297.50,132.31 L298.50,132.25 L299.50,132.18 L300.50,132.11 L301.50,132.05 L302.50,131.97 L303.50,131.90 L304.50,131.83 L305.50,131.75 L306.50,131.67 L307.50,131.59 L308.50,131.50 L309.50,131.41 L310.50,131.32 L311.50,131.23 L312.50,131.14 L313.50,131.04 L314.50,130.94 L315.50,130.84 L316.50,130.74 L317.50,130.63 L318.50,130.52 L319.50,130.41 L320.50,130.30 L321.50,130.18 L322.50,130.06 L323.50,129.94 L324.50,129.82 L325.50,129.69 L326.50,129.56 L327.50,129.43 L328.50,129.29 L329.50,129.15 L330.50,129.01 L331.50,128.87 L332.50,128.72 L333.50,128.57 L334.50,128.42 L335.50,128.26 L336.50,128.10 L337.50,127.94 L338.50,127.77 L339.50,127.60 L340.50,127.43 L341.50,127.26 L342.50,127.08 L343.50,126.90 L344.50,126.71 L345.50,126.52 L346.50,126.33 L347.50,126.14 L348.50,125.94 L349.50,125.74 L350.50,125.53 L351.50,125.32 L352.50,125.11 L353.50,124.90 L354.50,124.68 L355.50,124.45 L356.50,124.23 L357.50,123.99 L358.50,123.76 L359.50,123.52 L360.50,123.28 L361.50,123.03 L362.50,122.78 L363.50,122.53 L364.50,122.27 L365.50,122.01 L366.50,121.74 L367.50,121.47 L368.50,121.19 L369.50,120.92 L370.50,120.63 L371.50,120.34 L372.50,120.05 L373.50,119.76 L374.50,119.46 L375.50,119.15 L376.50,118.84 L377.50,118.53 L378.50,118.21 L379.50,117.89 L380.50,117.56 L381.50,117.23 L382.50,116.89 L383.50,116.55 L384.50,116.20 L385.50,115.85 L386.50,115.49 L387.50,115.13 L388.50,114.77 L389.50,114.40 L390.50,114.02 L391.50,113.64 L392.50,113.25 L393.50,112.86 L394.50,112.47 L395.50,112.07 L396.50,111.66 L397.50,111.25 L398.50,110.83 L399.50,110.41 L400.50,109.99 L401.50,109.55 L402.50,109.12 L403.50,108.67 L404.50,108.23 L405.50,107.77 L406.50,107.31 L407.50,106.85 L408.50,106.38 L409.50,105.91 L410.50,105.43 L411.50,104.94 L412.50,104.45 L413.50,103.95 L414.50,103.45 L415.50,102.94 L416.50,102.43 L417.50,101.91 L418.50,101.39 L419.50,100.86 L420.50,100.33 L421.50,99.78 L422.50,99.24 L423.50,98.69 L424.50,98.13 L425.50,97.57 L426.50,97.00 L427.50,96.43 L428.50,95.85 L429.50,95.26 L430.50,94.67 L431.50,94.08 L432.50,93.48 L433.50,92.87 L434.50,92.26 L435.50,91.64 L436.50,91.02 L437.50,90.39 L438.50,89.76 L439.50,89.12 L440.50,88.48 L441.50,87.83 L442.50,87.17 L443.50,86.51 L444.50,85.85 L445.50,85.18 L446.50,84.51 L447.50,83.83 L448.50,83.14 L449.50,82.45 L450.50,81.76 L451.50,81.06 L452.50,80.36 L453.50,79.65 L454.50,78.94 L455.50,78.22 L456.50,77.50 L457.50,76.78 L458.50,76.05 L459.50,75.32 L460.50,74.58 L461.50,73.84 L462.50,73.09 L463.50,72.35 L464.50,71.59 L465.50,70.84 L466.50,70.08 L467.50,69.32 L468.50,68.56 L469.50,67.79 L470.50,67.02 L471.50,66.24 L472.50,65.47 L473.50,64.69 L474.50,63.91 L475.50,63.13 L476.50,62.35 L477.50,61.56 L478.50,60.77 L479.50,59.99 L480.50,59.20 L481.50,58.41 L482.50,57.61" fill="none" stroke="#0000ff" stroke-width="1.8" stroke-linecap="round" stroke-dasharray="0.1 4.07"/>
<path d="M49.70,29.84 L50.70,30.73 L51.70,31.61 L52.70,32.48 L53.70,33.35 L54.70,34.20 L55.70,35.05 L56.70,35.89 L57.70,36.72 L58.70,37.54 L59.70,38.36 L60.70,39.17 L61.70,39.97 L62.70,40.77 L63.70,41.56 L64.70,42.35 L65.70,43.12 L66.70,43.90 L67.70,44.66 L68.70,45.42 L69.70,46.18 L70.70,46.93 L71.70,47.67 L72.70,48.41 L73.70,49.15 L74.70,49.88 L75.70,50.60 L76.70,51.32 L77.70,52.04 L78.70,52.75 L79.70,53.46 L80.70,54.16 L81.70,54.86 L82.70,55.56 L83.70,56.25 L84.70,56.94 L85.70,57.62 L86.70,58.30 L87.70,58.97 L88.70,59.64 L89.70,60.31 L90.70,60.97 L91.70,61.63 L92.70,62.29 L93.70,62.94 L94.70,63.59 L95.70,64.24 L96.70,64.88 L97.70,65.52 L98.70,66.15 L99.70,66.78 L100.70,67.41 L101.70,68.03 L102.70,68.65 L103.70,69.27 L104.70,69.88 L105.70,70.49 L106.70,71.10 L107.70,71.70 L108.70,72.30 L109.70,72.89 L110.70,73.48 L111.70,74.07 L112.70,74.65 L113.70,75.23 L114.70,75.81 L115.70,76.38 L116.70,76.95 L117.70,77.52 L118.70,78.08 L119.70,78.64 L120.70,79.20 L121.70,79.75 L122.70,80.29 L123.70,80.84 L124.70,81.38 L125.70,81.91 L126.70,82.44 L127.70,82.97 L128.70,83.50 L129.70,84.02 L130.70,84.53 L131.70,85.04 L132.70,85.55 L133.70,86.06 L134.70,86.56 L135.70,87.05 L136.70,87.55 L137.70,88.03 L138.70,88.52 L139.70,89.00 L140.70,89.48 L141.70,89.95 L142.70,90.42 L143.70,90.88 L144.70,91.34 L145.70,91.79 L146.70,92.25 L147.70,92.69 L148.70,93.14 L149.70,93.57 L150.70,94.01 L151.70,94.44 L152.70,94.87 L153.70,95.29 L154.70,95.70 L155.70,96.12 L156.70,96.53 L157.70,96.93 L158.70,97.33 L159.70,97.73 L160.70,98.12 L161.70,98.51 L162.70,98.89 L163.70,99.27 L164.70,99.65 L165.70,100.02 L166.70,100.38 L167.70,100.74 L168.70,101.10 L169.70,101.46 L170.70,101.81 L171.70,102.15 L172.70,102.49 L173.70,102.83 L174.70,103.16 L175.70,103.49 L176.70,103.81 L177.70,104.13 L178.70,104.44 L179.70,104.76 L180.70,105.06 L181.70,105.36 L182.70,105.66 L183.70,105.96 L184.70,106.25 L185.70,106.53 L186.70,106.81 L187.70,107.09 L188.70,107.36 L189.70,107.63 L190.70,107.90 L191.70,108.16 L192.70,108.42 L193.70,108.67 L194.70,108.92 L195.70,109.16 L196.70,109.40 L197.70,109.64 L198.70,109.87 L199.70,110.10 L200.70,110.33 L201.70,110.55 L202.70,110.76 L203.70,110.98 L204.70,111.19 L205.70,111.39 L206.70,111.59 L207.70,111.79 L208.70,111.99 L209.70,112.18 L210.70,112.36 L211.70,112.54 L212.70,112.72 L213.70,112.90 L214.70,113.07 L215.70,113.24 L216.70,113.40 L217.70,113.56 L218.70,113.72 L219.70,113.87 L220.70,114.02 L221.70,114.17 L222.70,114.31 L223.70,114.45 L224.70,114.58 L225.70,114.72 L226.70,114.85 L227.70,114.97 L228.70,115.09 L229.70,115.21 L230.70,115.32 L231.70,115.44 L232.70,115.54 L233.70,115.65 L234.70,115.75 L235.70,115.85 L236.70,115.94 L237.70,116.03 L238.70,116.12 L239.70,116.21 L240.70,116.29 L241.70,116.37 L242.70,116.44 L243.70,116.51 L244.70,116.58 L245.70,116.65 L246.70,116.71 L247.70,116.77 L248.70,116.82 L249.70,116.88 L250.70,116.93 L251.70,116.97 L252.70,117.02 L253.70,117.06 L254.70,117.09 L255.70,117.13 L256.70,117.16 L257.70,117.18 L258.70,117.21 L259.70,117.23 L260.70,117.25 L261.70,117.26 L262.70,117.28 L263.70,117.28 L264.70,117.29 L265.70,117.29 L266.10,117.29 L266.50,117.29 L267.50,117.29 L268.50,117.28 L269.50,117.28 L270.50,117.26 L271.50,117.25 L272.50,117.23 L273.50,117.21 L274.50,117.18 L275.50,117.16 L276.50,117.13 L277.50,117.09 L278.50,117.06 L279.50,117.02 L280.50,116.97 L281.50,116.93 L282.50,116.88 L283.50,116.82 L284.50,116.77 L285.50,116.71 L286.50,116.65 L287.50,116.58 L288.50,116.51 L289.50,116.44 L290.50,116.37 L291.50,116.29 L292.50,116.21 L293.50,116.12 L294.50,116.03 L295.50,115.94 L296.50,115.85 L297.50,115.75 L298.50,115.65 L299.50,115.54 L300.50,115.44 L301.50,115.32 L302.50,115.21 L303.50,115.09 L304.50,114.97 L305.50,114.85 L306.50,114.72 L307.50,114.58 L308.50,114.45 L309.50,114.31 L310.50,114.17 L311.50,114.02 L312.50,113.87 L313.50,113.72 L314.50,113.56 L315.50,113.40 L316.50,113.24 L317.50,113.07 L318.50,112.90 L319.50,112.72 L320.50,112.54 L321.50,112.36 L322.50,112.18 L323.50,111.99 L324.50,111.79 L325.50,111.59 L326.50,111.39 L327.50,111.19 L328.50,110.98 L329.50,110.76 L330.50,110.55 L331.50,110.33 L332.50,110.10 L333.50,109.87 L334.50,109.64 L335.50,109.40 L336.50,109.16 L337.50,108.92 L338.50,108.67 L339.50,108.42 L340.50,108.16 L341.50,107.90 L342.50,107.63 L343.50,107.36 L344.50,107.09 L345.50,106.81 L346.50,106.53 L347.50,106.25 L348.50,105.96 L349.50,105.66 L350.50,105.36 L351.50,105.06 L352.50,104.76 L353.50,104.44 L354.50,104.13 L355.50,103.81 L356.50,103.49 L357.50,103.16 L358.50,102.83 L359.50,102.49 L360.50,102.15 L361.50,101.81 L362.50,101.46 L363.50,101.10 L364.50,100.74 L365.50,100.38 L366.50,100.02 L367.50,99.65 L368.50,99.27 L369.50,98.89 L370.50,98.51 L371.50,98.12 L372.50,97.73 L373.50,97.33 L374.50,96.93 L375.50,96.53 L376.50,96.12 L377.50,95.70 L378.50,95.29 L379.50,94.87 L380.50,94.44 L381.50,94.01 L382.50,93.57 L383.50,93.14 L384.50,92.69 L385.50,92.25 L386.50,91.79 L387.50,91.34 L388.50,90.88 L389.50,90.42 L390.50,89.95 L391.50,89.48 L392.50,89.00 L393.50,88.52 L394.50,88.03 L395.50,87.55 L396.50,87.05 L397.50,86.56 L398.50,86.06 L399.50,85.55 L400.50,85.04 L401.50,84.53 L402.50,84.02 L403.50,83.50 L404.50,82.97 L405.50,82.44 L406.50,81.91 L407.50,81.38 L408.50,80.84 L409.50,80.29 L410.50,79.75 L411.50,79.20 L412.50,78.64 L413.50,78.08 L414.50,77.52 L415.50,76.95 L416.50,76.38 L417.50,75.81 L418.50,75.23 L419.50,74.65 L420.50,74.07 L421.50,73.48 L422.50,72.89 L423.50,72.30 L424.50,71.70 L425.50,71.10 L426.50,70.49 L427.50,69.88 L428.50,69.27 L429.50,68.65 L430.50,68.03 L431.50,67.41 L432.50,66.78 L433.50,66.15 L434.50,65.52 L435.50,64.88 L436.50,64.24 L437.50,63.59 L438.50,62.94 L439.50,62.29 L440.50,61.63 L441.50,60.97 L442.50,60.31 L443.50,59.64 L444.50,58.97 L445.50,58.30 L446.50,57.62 L447.50,56.94 L448.50,56.25 L449.50,55.56 L450.50,54.86 L451.50,54.16 L452.50,53.46 L453.50,52.75 L454.50,52.04 L455.50,51.32 L456.50,50.60 L457.50,49.88 L458.50,49.15 L459.50,48.41 L460.50,47.67 L461.50,46.93 L462.50,46.18 L463.50,45.42 L464.50,44.66 L465.50,43.90 L466.50,43.12 L467.50,42.35 L468.50,41.56 L469.50,40.77 L470.50,39.97 L471.50,39.17 L472.50,38.36 L473.50,37.54 L474.50,36.72 L475.50,35.89 L476.50,35.05 L477.50,34.20 L478.50,33.35 L479.50,32.48 L480.50,31.61 L481.50,30.73 L482.50,29.84" fill="none" stroke="#ff00ff" stroke-width="1.4" stroke-dasharray="0.9 0.9"/>

<rect x="49.7" y="11.85" width="433.70" height="133.80" fill="none" stroke="#000" stroke-width="2.5"/>
<path d="M49.70,145.65 v-4.6 M49.70,11.85 v4.6 M158.12,145.65 v-4.6 M158.12,11.85 v4.6 M266.55,145.65 v-4.6 M266.55,11.85 v4.6 M374.97,145.65 v-4.6 M374.97,11.85 v4.6 M483.40,145.65 v-4.6 M483.40,11.85 v4.6 M49.7,145.65 h4.6 M483.4,145.65 h-4.6 M49.7,101.05 h4.6 M483.4,101.05 h-4.6 M49.7,56.45 h4.6 M483.4,56.45 h-4.6 M49.7,11.85 h4.6 M483.4,11.85 h-4.6" stroke="#000" stroke-width="2.2" fill="none"/>


<path d="M270.8,22.8 H298.6" stroke="#ff0000" stroke-width="1.3" fill="none"/>
<path d="M270.8,39.5 H298.6" stroke="#00ff00" stroke-width="1.6" stroke-dasharray="3.6 2" fill="none"/>
<path d="M271.55,56.1 H298.6" stroke="#0000ff" stroke-width="1.8" stroke-linecap="round" stroke-dasharray="0.1 4.07" fill="none"/>
<path d="M270.8,72.8 H298.2" stroke="#ff00ff" stroke-width="1.4" stroke-dasharray="0.9 0.9" fill="none"/>

<path d="M49.70,296.33 L49.95,296.37 L50.20,296.41 L50.45,296.46 L50.70,296.50 L50.95,296.54 L51.20,296.58 L51.45,296.63 L51.70,296.67 L51.95,296.71 L52.20,296.75 L52.45,296.79 L52.70,296.83 L52.95,296.87 L53.20,296.91 L53.45,296.95 L53.70,296.99 L53.95,297.03 L54.20,297.07 L54.45,297.11 L54.70,297.15 L54.95,297.19 L55.20,297.23 L55.45,297.27 L55.70,297.31 L55.95,297.35 L56.20,297.39 L56.45,297.42 L56.70,297.46 L56.95,297.50 L57.20,297.54 L57.45,297.57 L57.70,297.61 L57.95,297.65 L58.20,297.68 L58.45,297.72 L58.70,297.76 L58.95,297.79 L59.20,297.83 L59.45,297.86 L59.70,297.90 L59.95,297.94 L60.20,297.97 L60.45,298.01 L60.70,298.04 L60.95,298.08 L61.20,298.11 L61.45,298.15 L61.70,298.18 L61.95,298.21 L62.20,298.25 L62.45,298.28 L62.70,298.31 L62.95,298.35 L63.20,298.38 L63.45,298.41 L63.70,298.44 L63.95,298.47 L64.20,298.50 L64.45,298.53 L64.70,298.56 L64.95,298.59 L65.20,298.62 L65.45,298.64 L65.70,298.67 L65.95,298.70 L66.20,298.73 L66.45,298.75 L66.70,298.78 L66.95,298.81 L67.20,298.83 L67.45,298.86 L67.70,298.88 L67.95,298.91 L68.20,298.93 L68.45,298.96 L68.70,298.98 L68.95,299.01 L69.20,299.03 L69.45,299.06 L69.70,299.08 L69.95,299.11 L70.20,299.13 L70.45,299.16 L70.70,299.18 L70.95,299.20 L71.20,299.23 L71.45,299.25 L71.70,299.28 L71.95,299.30 L72.20,299.32 L72.45,299.35 L72.70,299.37 L72.95,299.40 L73.20,299.42 L73.45,299.44 L73.70,299.47 L73.95,299.49 L74.20,299.51 L74.45,299.54 L74.70,299.56 L74.95,299.58 L75.20,299.60 L75.45,299.63 L75.70,299.65 L75.95,299.67 L76.20,299.69 L76.45,299.71 L76.70,299.74 L76.95,299.76 L77.20,299.78 L77.45,299.80 L77.70,299.82 L77.95,299.85 L78.20,299.87 L78.45,299.89 L78.70,299.91 L78.95,299.93 L79.20,299.95 L79.45,299.98 L79.70,300.00 L79.95,300.02 L80.20,300.04 L80.45,300.06 L80.70,300.09 L80.95,300.11 L81.20,300.13 L81.45,300.15 L81.70,300.17 L81.95,300.19 L82.20,300.21 L82.45,300.24 L82.70,300.26 L82.95,300.28 L83.20,300.30 L83.45,300.32 L83.70,300.34 L83.95,300.36 L84.20,300.38 L84.45,300.40 L84.70,300.42 L84.95,300.44 L85.20,300.46 L85.45,300.48 L85.70,300.50 L85.95,300.52 L86.20,300.54 L86.45,300.56 L86.70,300.58 L86.95,300.60 L87.20,300.61 L87.45,300.63 L87.70,300.65 L87.95,300.67 L88.20,300.69 L88.45,300.71 L88.70,300.73 L88.95,300.74 L89.20,300.76 L89.45,300.78 L89.70,300.80 L89.95,300.82 L90.20,300.83 L90.45,300.85 L90.70,300.87 L90.95,300.88 L91.20,300.90 L91.45,300.91 L91.70,300.93 L91.95,300.94 L92.20,300.96 L92.45,300.97 L92.70,300.98 L92.95,301.00 L93.20,301.01 L93.45,301.02 L93.70,301.03 L93.95,301.04 L94.20,301.06 L94.45,301.07 L94.70,301.08 L94.95,301.09 L95.20,301.10 L95.45,301.11 L95.70,301.12 L95.95,301.13 L96.20,301.14 L96.45,301.15 L96.70,301.16 L96.95,301.16 L97.20,301.17 L97.45,301.18 L97.70,301.19 L97.95,301.20 L98.20,301.21 L98.45,301.22 L98.70,301.23 L98.95,301.23 L99.20,301.24 L99.45,301.25 L99.70,301.26 L99.95,301.27 L100.20,301.27 L100.45,301.28 L100.70,301.29 L100.95,301.30 L101.20,301.31 L101.45,301.31 L101.70,301.32 L101.95,301.33 L102.20,301.34 L102.45,301.35 L102.70,301.36 L102.95,301.37 L103.20,301.38 L103.45,301.38 L103.70,301.39 L103.95,301.40 L104.20,301.41 L104.45,301.42 L104.70,301.43 L104.95,301.43 L105.20,301.44 L105.45,301.45 L105.70,301.46 L105.95,301.46 L106.20,301.47 L106.45,301.47 L106.70,301.48 L106.95,301.48 L107.20,301.49 L107.45,301.49 L107.70,301.50 L107.95,301.50 L108.20,301.50 L108.45,301.50 L108.70,301.51 L108.95,301.51 L109.20,301.51 L109.45,301.51 L109.70,301.52 L109.95,301.52 L110.20,301.52 L110.45,301.52 L110.70,301.53 L110.95,301.53 L111.20,301.53 L111.45,301.53 L111.70,301.53 L111.95,301.54 L112.20,301.54 L112.45,301.54 L112.70,301.54 L112.95,301.54 L113.20,301.54 L113.45,301.54 L113.70,301.54 L113.95,301.55 L114.20,301.55 L114.45,301.55 L114.70,301.55 L114.95,301.55 L115.20,301.55 L115.45,301.55 L115.70,301.55 L115.95,301.55 L116.20,301.55 L116.45,301.55 L116.70,301.55 L116.95,301.55 L117.20,301.54 L117.45,301.54 L117.70,301.54 L117.95,301.53 L118.20,301.53 L118.45,301.53 L118.70,301.52 L118.95,301.52 L119.20,301.51 L119.45,301.50 L119.70,301.50 L119.95,301.49 L120.20,301.48 L120.45,301.48 L120.70,301.47 L120.95,301.46 L121.20,301.46 L121.45,301.45 L121.70,301.44 L121.95,301.43 L122.20,301.43 L122.45,301.42 L122.70,301.41 L122.95,301.40 L123.20,301.39 L123.45,301.38 L123.70,301.38 L123.95,301.37 L124.20,301.35 L124.45,301.34 L124.70,301.33 L124.95,301.32 L125.20,301.31 L125.45,301.29 L125.70,301.28 L125.95,301.26 L126.20,301.25 L126.45,301.23 L126.70,301.22 L126.95,301.20 L127.20,301.18 L127.45,301.17 L127.70,301.15 L127.95,301.13 L128.20,301.11 L128.45,301.10 L128.70,301.08 L128.95,301.06 L129.20,301.04 L129.45,301.02 L129.70,301.00 L129.95,300.98 L130.20,300.96 L130.45,300.93 L130.70,300.91 L130.95,300.89 L131.20,300.87 L131.45,300.85 L131.70,300.83 L131.95,300.80 L132.20,300.78 L132.45,300.76 L132.70,300.73 L132.95,300.71 L133.20,300.68 L133.45,300.65 L133.70,300.62 L133.95,300.59 L134.20,300.56 L134.45,300.52 L134.70,300.49 L134.95,300.46 L135.20,300.43 L135.45,300.39 L135.70,300.36 L135.95,300.32 L136.20,300.29 L136.45,300.25 L136.70,300.22 L136.95,300.19 L137.20,300.15 L137.45,300.12 L137.70,300.09 L137.95,300.06 L138.20,300.03 L138.45,299.99 L138.70,299.96 L138.95,299.93 L139.20,299.90 L139.45,299.87 L139.70,299.84 L139.95,299.81 L140.20,299.78 L140.45,299.75 L140.70,299.72 L140.95,299.69 L141.20,299.66 L141.45,299.63 L141.70,299.60 L141.95,299.57 L142.20,299.54 L142.45,299.50 L142.70,299.47 L142.95,299.44 L143.20,299.41 L143.45,299.37 L143.70,299.34 L143.95,299.31 L144.20,299.27 L144.45,299.24 L144.70,299.20 L144.95,299.17 L145.20,299.13 L145.45,299.10 L145.70,299.06 L145.95,299.03 L146.20,298.99 L146.45,298.96 L146.70,298.92 L146.95,298.88 L147.20,298.85 L147.45,298.81 L147.70,298.77 L147.95,298.73 L148.20,298.69 L148.45,298.65 L148.70,298.62 L148.95,298.57 L149.20,298.53 L149.45,298.49 L149.70,298.45 L149.95,298.41 L150.20,298.37 L150.45,298.32 L150.70,298.28 L150.95,298.23 L151.20,298.18 L151.45,298.14 L151.70,298.09 L151.95,298.04 L152.20,297.99 L152.45,297.94 L152.70,297.89 L152.95,297.84 L153.20,297.79 L153.45,297.74 L153.70,297.69 L153.95,297.64 L154.20,297.58 L154.45,297.53 L154.70,297.48 L154.95,297.43 L155.20,297.37 L155.45,297.32 L155.70,297.26 L155.95,297.21 L156.20,297.16 L156.45,297.10 L156.70,297.05 L156.95,297.00 L157.20,296.94 L157.45,296.89 L157.70,296.84 L157.95,296.78 L158.20,296.73 L158.45,296.67 L158.70,296.62 L158.95,296.56 L159.20,296.50 L159.45,296.45 L159.70,296.39 L159.95,296.33 L160.20,296.27 L160.45,296.21 L160.70,296.14 L160.95,296.08 L161.20,296.02 L161.45,295.95 L161.70,295.88 L161.95,295.81 L162.20,295.74 L162.45,295.67 L162.70,295.60 L162.95,295.52 L163.20,295.44 L163.45,295.37 L163.70,295.29 L163.95,295.20 L164.20,295.12 L164.45,295.04 L164.70,294.95 L164.95,294.86 L165.20,294.77 L165.45,294.68 L165.70,294.59 L165.95,294.50 L166.20,294.41 L166.45,294.31 L166.70,294.22 L166.95,294.12 L167.20,294.02 L167.45,293.92 L167.70,293.82 L167.95,293.72 L168.20,293.62 L168.45,293.51 L168.70,293.40 L168.95,293.29 L169.20,293.17 L169.45,293.06 L169.70,292.94 L169.95,292.82 L170.20,292.70 L170.45,292.57 L170.70,292.45 L170.95,292.32 L171.20,292.20 L171.45,292.07 L171.70,291.94 L171.95,291.81 L172.20,291.68 L172.45,291.55 L172.70,291.41 L172.95,291.28 L173.20,291.14 L173.45,291.00 L173.70,290.86 L173.95,290.73 L174.20,290.59 L174.45,290.45 L174.70,290.31 L174.95,290.17 L175.20,290.03 L175.45,289.88 L175.70,289.74 L175.95,289.60 L176.20,289.46 L176.45,289.31 L176.70,289.17 L176.95,289.03 L177.20,288.89 L177.45,288.75 L177.70,288.62 L177.95,288.48 L178.20,288.35 L178.45,288.21 L178.70,288.08 L178.95,287.94 L179.20,287.79 L179.45,287.65 L179.70,287.49 L179.95,287.33 L180.20,287.16 L180.45,286.99 L180.70,286.80 L180.95,286.61 L181.20,286.41 L181.45,286.21 L181.70,286.00 L181.95,285.79 L182.20,285.58 L182.45,285.37 L182.70,285.16 L182.95,284.94 L183.20,284.73 L183.45,284.52 L183.70,284.31 L183.95,284.09 L184.20,283.88 L184.45,283.66 L184.70,283.44 L184.95,283.21 L185.20,282.98 L185.45,282.75 L185.70,282.50 L185.95,282.25 L186.20,281.99 L186.45,281.73 L186.70,281.46 L186.95,281.19 L187.20,280.91 L187.45,280.62 L187.70,280.32 L187.95,280.02 L188.20,279.70 L188.45,279.37 L188.70,279.03 L188.95,278.67 L189.20,278.30 L189.45,277.91 L189.70,277.50 L189.95,277.06 L190.20,276.60 L190.45,276.13 L190.70,275.63 L190.95,275.11 L191.20,274.55 L191.45,273.95 L191.70,273.31 L191.95,272.64 L192.20,271.95 L192.45,271.25 L192.70,270.55 L192.95,269.86 L193.20,269.18 L193.45,268.50 L193.70,267.81 L193.95,267.11 L194.20,266.40 L194.45,265.67 L194.70,264.93 L194.95,264.16 L195.20,263.37 L195.45,262.60 L195.70,261.81 L195.95,261.00 L196.20,260.15 L196.45,259.24 L196.70,258.27 L196.95,257.22 L197.20,256.05 L197.45,254.71 L197.70,253.23 L197.95,251.65 L198.20,250.00 L199.60,232.00 L201.50,203.00 L202.54,233.00 L203.20,252.00 L203.45,255.12 L203.70,258.00 L203.95,260.69 L204.20,263.14 L204.45,265.15 L204.70,266.84 L204.95,268.41 L205.20,270.00 L205.45,271.72 L205.70,273.39 L205.95,274.87 L206.20,276.30 L206.45,277.64 L206.70,278.84 L206.95,279.83 L207.20,280.62 L207.45,281.30 L207.70,281.90 L207.95,282.45 L208.20,282.96 L208.45,283.47 L208.70,284.00 L208.95,284.54 L209.20,285.07 L209.45,285.60 L209.70,286.12 L209.95,286.62 L210.20,287.11 L210.45,287.58 L210.70,288.03 L210.95,288.46 L211.20,288.87 L211.45,289.27 L211.70,289.66 L211.95,290.04 L212.20,290.41 L212.45,290.77 L212.70,291.12 L212.95,291.46 L213.20,291.80 L213.45,292.13 L213.70,292.46 L213.95,292.79 L214.20,293.11 L214.45,293.42 L214.70,293.73 L214.95,294.03 L215.20,294.32 L215.45,294.61 L215.70,294.88 L215.95,295.15 L216.20,295.40 L216.45,295.64 L216.70,295.88 L216.95,296.11 L217.20,296.34 L217.45,296.55 L217.70,296.77 L217.95,296.98 L218.20,297.18 L218.45,297.38 L218.70,297.58 L218.95,297.77 L219.20,297.96 L219.45,298.14 L219.70,298.33 L219.95,298.51 L220.20,298.69 L220.45,298.86 L220.70,299.04 L220.95,299.21 L221.20,299.38 L221.45,299.54 L221.70,299.71 L221.95,299.87 L222.20,300.03 L222.45,300.18 L222.70,300.34 L222.95,300.49 L223.20,300.64 L223.45,300.79 L223.70,300.93 L223.95,301.07 L224.20,301.21 L224.45,301.35 L224.70,301.49 L224.95,301.62 L225.20,301.75 L225.45,301.88 L225.70,302.01 L225.95,302.14 L226.20,302.26 L226.45,302.39 L226.70,302.51 L226.95,302.63 L227.20,302.75 L227.45,302.86 L227.70,302.98 L227.95,303.09 L228.20,303.20 L228.45,303.31 L228.70,303.42 L228.95,303.52 L229.20,303.63 L229.45,303.73 L229.70,303.84 L229.95,303.94 L230.20,304.04 L230.45,304.13 L230.70,304.23 L230.95,304.32 L231.20,304.42 L231.45,304.51 L231.70,304.60 L231.95,304.68 L232.20,304.77 L232.45,304.85 L232.70,304.94 L232.95,305.02 L233.20,305.10 L233.45,305.18 L233.70,305.26 L233.95,305.34 L234.20,305.42 L234.45,305.50 L234.70,305.57 L234.95,305.65 L235.20,305.72 L235.45,305.79 L235.70,305.87 L235.95,305.94 L236.20,306.01 L236.45,306.08 L236.70,306.15 L236.95,306.22 L237.20,306.29 L237.45,306.35 L237.70,306.42 L237.95,306.49 L238.20,306.55 L238.45,306.62 L238.70,306.68 L238.95,306.75 L239.20,306.81 L239.45,306.87 L239.70,306.94 L239.95,307.00 L240.20,307.06 L240.45,307.12 L240.70,307.18 L240.95,307.24 L241.20,307.30 L241.45,307.36 L241.70,307.41 L241.95,307.47 L242.20,307.53 L242.45,307.58 L242.70,307.63 L242.95,307.69 L243.20,307.74 L243.45,307.79 L243.70,307.84 L243.95,307.89 L244.20,307.94 L244.45,307.99 L244.70,308.03 L244.95,308.08 L245.20,308.13 L245.45,308.17 L245.70,308.22 L245.95,308.26 L246.20,308.31 L246.45,308.35 L246.70,308.39 L246.95,308.43 L247.20,308.48 L247.45,308.52 L247.70,308.56 L247.95,308.60 L248.20,308.64 L248.45,308.67 L248.70,308.71 L248.95,308.75 L249.20,308.79 L249.45,308.82 L249.70,308.86 L249.95,308.89 L250.20,308.93 L250.45,308.96 L250.70,309.00 L250.95,309.03 L251.20,309.06 L251.45,309.10 L251.70,309.13 L251.95,309.17 L252.20,309.20 L252.45,309.23 L252.70,309.26 L252.95,309.29 L253.20,309.32 L253.45,309.35 L253.70,309.38 L253.95,309.41 L254.20,309.44 L254.45,309.47 L254.70,309.49 L254.95,309.51 L255.20,309.54 L255.45,309.56 L255.70,309.58 L255.95,309.60 L256.20,309.61 L256.45,309.63 L256.70,309.65 L256.95,309.66 L257.20,309.68 L257.45,309.69 L257.70,309.71 L257.95,309.72 L258.20,309.74 L258.45,309.75 L258.70,309.76 L258.95,309.78 L259.20,309.79 L259.45,309.80 L259.70,309.81 L259.95,309.82 L260.20,309.83 L260.45,309.84 L260.70,309.85 L260.95,309.86 L261.20,309.87 L261.45,309.88 L261.70,309.89 L261.95,309.90 L262.20,309.91 L262.45,309.91 L262.70,309.92 L262.95,309.93 L263.20,309.94 L263.45,309.94 L263.70,309.95 L263.95,309.96 L264.20,309.96 L264.45,309.97 L264.70,309.97 L264.95,309.98 L265.20,309.98 L265.45,309.99 L265.70,309.99 L265.95,310.00 L266.10,310.00 L266.25,310.00 L266.50,309.99 L266.75,309.99 L267.00,309.98 L267.25,309.98 L267.50,309.97 L267.75,309.97 L268.00,309.96 L268.25,309.96 L268.50,309.95 L268.75,309.94 L269.00,309.94 L269.25,309.93 L269.50,309.92 L269.75,309.91 L270.00,309.91 L270.25,309.90 L270.50,309.89 L270.75,309.88 L271.00,309.87 L271.25,309.86 L271.50,309.85 L271.75,309.84 L272.00,309.83 L272.25,309.82 L272.50,309.81 L272.75,309.80 L273.00,309.79 L273.25,309.78 L273.50,309.76 L273.75,309.75 L274.00,309.74 L274.25,309.72 L274.50,309.71 L274.75,309.69 L275.00,309.68 L275.25,309.66 L275.50,309.65 L275.75,309.63 L276.00,309.61 L276.25,309.60 L276.50,309.58 L276.75,309.56 L277.00,309.54 L277.25,309.51 L277.50,309.49 L277.75,309.47 L278.00,309.44 L278.25,309.41 L278.50,309.38 L278.75,309.35 L279.00,309.32 L279.25,309.29 L279.50,309.26 L279.75,309.23 L280.00,309.20 L280.25,309.17 L280.50,309.13 L280.75,309.10 L281.00,309.06 L281.25,309.03 L281.50,309.00 L281.75,308.96 L282.00,308.93 L282.25,308.89 L282.50,308.86 L282.75,308.82 L283.00,308.79 L283.25,308.75 L283.50,308.71 L283.75,308.67 L284.00,308.64 L284.25,308.60 L284.50,308.56 L284.75,308.52 L285.00,308.48 L285.25,308.43 L285.50,308.39 L285.75,308.35 L286.00,308.31 L286.25,308.26 L286.50,308.22 L286.75,308.17 L287.00,308.13 L287.25,308.08 L287.50,308.03 L287.75,307.99 L288.00,307.94 L288.25,307.89 L288.50,307.84 L288.75,307.79 L289.00,307.74 L289.25,307.69 L289.50,307.63 L289.75,307.58 L290.00,307.53 L290.25,307.47 L290.50,307.41 L290.75,307.36 L291.00,307.30 L291.25,307.24 L291.50,307.18 L291.75,307.12 L292.00,307.06 L292.25,307.00 L292.50,306.94 L292.75,306.87 L293.00,306.81 L293.25,306.75 L293.50,306.68 L293.75,306.62 L294.00,306.55 L294.25,306.49 L294.50,306.42 L294.75,306.35 L295.00,306.29 L295.25,306.22 L295.50,306.15 L295.75,306.08 L296.00,306.01 L296.25,305.94 L296.50,305.87 L296.75,305.79 L297.00,305.72 L297.25,305.65 L297.50,305.57 L297.75,305.50 L298.00,305.42 L298.25,305.34 L298.50,305.26 L298.75,305.18 L299.00,305.10 L299.25,305.02 L299.50,304.94 L299.75,304.85 L300.00,304.77 L300.25,304.68 L300.50,304.60 L300.75,304.51 L301.00,304.42 L301.25,304.32 L301.50,304.23 L301.75,304.13 L302.00,304.04 L302.25,303.94 L302.50,303.84 L302.75,303.73 L303.00,303.63 L303.25,303.52 L303.50,303.42 L303.75,303.31 L304.00,303.20 L304.25,303.09 L304.50,302.98 L304.75,302.86 L305.00,302.75 L305.25,302.63 L305.50,302.51 L305.75,302.39 L306.00,302.26 L306.25,302.14 L306.50,302.01 L306.75,301.88 L307.00,301.75 L307.25,301.62 L307.50,301.49 L307.75,301.35 L308.00,301.21 L308.25,301.07 L308.50,300.93 L308.75,300.79 L309.00,300.64 L309.25,300.49 L309.50,300.34 L309.75,300.18 L310.00,300.03 L310.25,299.87 L310.50,299.71 L310.75,299.54 L311.00,299.38 L311.25,299.21 L311.50,299.04 L311.75,298.86 L312.00,298.69 L312.25,298.51 L312.50,298.33 L312.75,298.14 L313.00,297.96 L313.25,297.77 L313.50,297.58 L313.75,297.38 L314.00,297.18 L314.25,296.98 L314.50,296.77 L314.75,296.55 L315.00,296.34 L315.25,296.11 L315.50,295.88 L315.75,295.64 L316.00,295.40 L316.25,295.15 L316.50,294.88 L316.75,294.61 L317.00,294.32 L317.25,294.03 L317.50,293.73 L317.75,293.42 L318.00,293.11 L318.25,292.79 L318.50,292.46 L318.75,292.13 L319.00,291.80 L319.25,291.46 L319.50,291.12 L319.75,290.77 L320.00,290.41 L320.25,290.04 L320.50,289.66 L320.75,289.27 L321.00,288.87 L321.25,288.46 L321.50,288.03 L321.75,287.58 L322.00,287.11 L322.25,286.62 L322.50,286.12 L322.75,285.60 L323.00,285.07 L323.25,284.54 L323.50,284.00 L323.75,283.47 L324.00,282.96 L324.25,282.45 L324.50,281.90 L324.75,281.30 L325.00,280.62 L325.25,279.83 L325.50,278.84 L325.75,277.64 L326.00,276.30 L326.25,274.87 L326.50,273.39 L326.75,271.72 L327.00,270.00 L327.25,268.41 L327.50,266.84 L327.75,265.15 L328.00,263.14 L328.25,260.69 L328.50,258.00 L328.75,255.12 L329.00,252.00 L329.66,233.00 L330.70,203.00 L332.60,232.00 L334.00,250.00 L334.25,251.65 L334.50,253.23 L334.75,254.71 L335.00,256.05 L335.25,257.22 L335.50,258.27 L335.75,259.24 L336.00,260.15 L336.25,261.00 L336.50,261.81 L336.75,262.60 L337.00,263.37 L337.25,264.16 L337.50,264.93 L337.75,265.67 L338.00,266.40 L338.25,267.11 L338.50,267.81 L338.75,268.50 L339.00,269.18 L339.25,269.86 L339.50,270.55 L339.75,271.25 L340.00,271.95 L340.25,272.64 L340.50,273.31 L340.75,273.95 L341.00,274.55 L341.25,275.11 L341.50,275.63 L341.75,276.13 L342.00,276.60 L342.25,277.06 L342.50,277.50 L342.75,277.91 L343.00,278.30 L343.25,278.67 L343.50,279.03 L343.75,279.37 L344.00,279.70 L344.25,280.02 L344.50,280.32 L344.75,280.62 L345.00,280.91 L345.25,281.19 L345.50,281.46 L345.75,281.73 L346.00,281.99 L346.25,282.25 L346.50,282.50 L346.75,282.75 L347.00,282.98 L347.25,283.21 L347.50,283.44 L347.75,283.66 L348.00,283.88 L348.25,284.09 L348.50,284.31 L348.75,284.52 L349.00,284.73 L349.25,284.94 L349.50,285.16 L349.75,285.37 L350.00,285.58 L350.25,285.79 L350.50,286.00 L350.75,286.21 L351.00,286.41 L351.25,286.61 L351.50,286.80 L351.75,286.99 L352.00,287.16 L352.25,287.33 L352.50,287.49 L352.75,287.65 L353.00,287.79 L353.25,287.94 L353.50,288.08 L353.75,288.21 L354.00,288.35 L354.25,288.48 L354.50,288.62 L354.75,288.75 L355.00,288.89 L355.25,289.03 L355.50,289.17 L355.75,289.31 L356.00,289.46 L356.25,289.60 L356.50,289.74 L356.75,289.88 L357.00,290.03 L357.25,290.17 L357.50,290.31 L357.75,290.45 L358.00,290.59 L358.25,290.73 L358.50,290.86 L358.75,291.00 L359.00,291.14 L359.25,291.28 L359.50,291.41 L359.75,291.55 L360.00,291.68 L360.25,291.81 L360.50,291.94 L360.75,292.07 L361.00,292.20 L361.25,292.32 L361.50,292.45 L361.75,292.57 L362.00,292.70 L362.25,292.82 L362.50,292.94 L362.75,293.06 L363.00,293.17 L363.25,293.29 L363.50,293.40 L363.75,293.51 L364.00,293.62 L364.25,293.72 L364.50,293.82 L364.75,293.92 L365.00,294.02 L365.25,294.12 L365.50,294.22 L365.75,294.31 L366.00,294.41 L366.25,294.50 L366.50,294.59 L366.75,294.68 L367.00,294.77 L367.25,294.86 L367.50,294.95 L367.75,295.04 L368.00,295.12 L368.25,295.20 L368.50,295.29 L368.75,295.37 L369.00,295.44 L369.25,295.52 L369.50,295.60 L369.75,295.67 L370.00,295.74 L370.25,295.81 L370.50,295.88 L370.75,295.95 L371.00,296.02 L371.25,296.08 L371.50,296.14 L371.75,296.21 L372.00,296.27 L372.25,296.33 L372.50,296.39 L372.75,296.45 L373.00,296.50 L373.25,296.56 L373.50,296.62 L373.75,296.67 L374.00,296.73 L374.25,296.78 L374.50,296.84 L374.75,296.89 L375.00,296.94 L375.25,297.00 L375.50,297.05 L375.75,297.10 L376.00,297.16 L376.25,297.21 L376.50,297.26 L376.75,297.32 L377.00,297.37 L377.25,297.43 L377.50,297.48 L377.75,297.53 L378.00,297.58 L378.25,297.64 L378.50,297.69 L378.75,297.74 L379.00,297.79 L379.25,297.84 L379.50,297.89 L379.75,297.94 L380.00,297.99 L380.25,298.04 L380.50,298.09 L380.75,298.14 L381.00,298.18 L381.25,298.23 L381.50,298.28 L381.75,298.32 L382.00,298.37 L382.25,298.41 L382.50,298.45 L382.75,298.49 L383.00,298.53 L383.25,298.57 L383.50,298.62 L383.75,298.65 L384.00,298.69 L384.25,298.73 L384.50,298.77 L384.75,298.81 L385.00,298.85 L385.25,298.88 L385.50,298.92 L385.75,298.96 L386.00,298.99 L386.25,299.03 L386.50,299.06 L386.75,299.10 L387.00,299.13 L387.25,299.17 L387.50,299.20 L387.75,299.24 L388.00,299.27 L388.25,299.31 L388.50,299.34 L388.75,299.37 L389.00,299.41 L389.25,299.44 L389.50,299.47 L389.75,299.50 L390.00,299.54 L390.25,299.57 L390.50,299.60 L390.75,299.63 L391.00,299.66 L391.25,299.69 L391.50,299.72 L391.75,299.75 L392.00,299.78 L392.25,299.81 L392.50,299.84 L392.75,299.87 L393.00,299.90 L393.25,299.93 L393.50,299.96 L393.75,299.99 L394.00,300.03 L394.25,300.06 L394.50,300.09 L394.75,300.12 L395.00,300.15 L395.25,300.19 L395.50,300.22 L395.75,300.25 L396.00,300.29 L396.25,300.32 L396.50,300.36 L396.75,300.39 L397.00,300.43 L397.25,300.46 L397.50,300.49 L397.75,300.52 L398.00,300.56 L398.25,300.59 L398.50,300.62 L398.75,300.65 L399.00,300.68 L399.25,300.71 L399.50,300.73 L399.75,300.76 L400.00,300.78 L400.25,300.80 L400.50,300.83 L400.75,300.85 L401.00,300.87 L401.25,300.89 L401.50,300.91 L401.75,300.93 L402.00,300.96 L402.25,300.98 L402.50,301.00 L402.75,301.02 L403.00,301.04 L403.25,301.06 L403.50,301.08 L403.75,301.10 L404.00,301.11 L404.25,301.13 L404.50,301.15 L404.75,301.17 L405.00,301.18 L405.25,301.20 L405.50,301.22 L405.75,301.23 L406.00,301.25 L406.25,301.26 L406.50,301.28 L406.75,301.29 L407.00,301.31 L407.25,301.32 L407.50,301.33 L407.75,301.34 L408.00,301.35 L408.25,301.37 L408.50,301.38 L408.75,301.38 L409.00,301.39 L409.25,301.40 L409.50,301.41 L409.75,301.42 L410.00,301.43 L410.25,301.43 L410.50,301.44 L410.75,301.45 L411.00,301.46 L411.25,301.46 L411.50,301.47 L411.75,301.48 L412.00,301.48 L412.25,301.49 L412.50,301.50 L412.75,301.50 L413.00,301.51 L413.25,301.52 L413.50,301.52 L413.75,301.53 L414.00,301.53 L414.25,301.53 L414.50,301.54 L414.75,301.54 L415.00,301.54 L415.25,301.55 L415.50,301.55 L415.75,301.55 L416.00,301.55 L416.25,301.55 L416.50,301.55 L416.75,301.55 L417.00,301.55 L417.25,301.55 L417.50,301.55 L417.75,301.55 L418.00,301.55 L418.25,301.55 L418.50,301.54 L418.75,301.54 L419.00,301.54 L419.25,301.54 L419.50,301.54 L419.75,301.54 L420.00,301.54 L420.25,301.54 L420.50,301.53 L420.75,301.53 L421.00,301.53 L421.25,301.53 L421.50,301.53 L421.75,301.52 L422.00,301.52 L422.25,301.52 L422.50,301.52 L422.75,301.51 L423.00,301.51 L423.25,301.51 L423.50,301.51 L423.75,301.50 L424.00,301.50 L424.25,301.50 L424.50,301.50 L424.75,301.49 L425.00,301.49 L425.25,301.48 L425.50,301.48 L425.75,301.47 L426.00,301.47 L426.25,301.46 L426.50,301.46 L426.75,301.45 L427.00,301.44 L427.25,301.43 L427.50,301.43 L427.75,301.42 L428.00,301.41 L428.25,301.40 L428.50,301.39 L428.75,301.38 L429.00,301.38 L429.25,301.37 L429.50,301.36 L429.75,301.35 L430.00,301.34 L430.25,301.33 L430.50,301.32 L430.75,301.31 L431.00,301.31 L431.25,301.30 L431.50,301.29 L431.75,301.28 L432.00,301.27 L432.25,301.27 L432.50,301.26 L432.75,301.25 L433.00,301.24 L433.25,301.23 L433.50,301.23 L433.75,301.22 L434.00,301.21 L434.25,301.20 L434.50,301.19 L434.75,301.18 L435.00,301.17 L435.25,301.16 L435.50,301.16 L435.75,301.15 L436.00,301.14 L436.25,301.13 L436.50,301.12 L436.75,301.11 L437.00,301.10 L437.25,301.09 L437.50,301.08 L437.75,301.07 L438.00,301.06 L438.25,301.04 L438.50,301.03 L438.75,301.02 L439.00,301.01 L439.25,301.00 L439.50,300.98 L439.75,300.97 L440.00,300.96 L440.25,300.94 L440.50,300.93 L440.75,300.91 L441.00,300.90 L441.25,300.88 L441.50,300.87 L441.75,300.85 L442.00,300.83 L442.25,300.82 L442.50,300.80 L442.75,300.78 L443.00,300.76 L443.25,300.74 L443.50,300.73 L443.75,300.71 L444.00,300.69 L444.25,300.67 L444.50,300.65 L444.75,300.63 L445.00,300.61 L445.25,300.60 L445.50,300.58 L445.75,300.56 L446.00,300.54 L446.25,300.52 L446.50,300.50 L446.75,300.48 L447.00,300.46 L447.25,300.44 L447.50,300.42 L447.75,300.40 L448.00,300.38 L448.25,300.36 L448.50,300.34 L448.75,300.32 L449.00,300.30 L449.25,300.28 L449.50,300.26 L449.75,300.24 L450.00,300.21 L450.25,300.19 L450.50,300.17 L450.75,300.15 L451.00,300.13 L451.25,300.11 L451.50,300.09 L451.75,300.06 L452.00,300.04 L452.25,300.02 L452.50,300.00 L452.75,299.98 L453.00,299.95 L453.25,299.93 L453.50,299.91 L453.75,299.89 L454.00,299.87 L454.25,299.85 L454.50,299.82 L454.75,299.80 L455.00,299.78 L455.25,299.76 L455.50,299.74 L455.75,299.71 L456.00,299.69 L456.25,299.67 L456.50,299.65 L456.75,299.63 L457.00,299.60 L457.25,299.58 L457.50,299.56 L457.75,299.54 L458.00,299.51 L458.25,299.49 L458.50,299.47 L458.75,299.44 L459.00,299.42 L459.25,299.40 L459.50,299.37 L459.75,299.35 L460.00,299.32 L460.25,299.30 L460.50,299.28 L460.75,299.25 L461.00,299.23 L461.25,299.20 L461.50,299.18 L461.75,299.16 L462.00,299.13 L462.25,299.11 L462.50,299.08 L462.75,299.06 L463.00,299.03 L463.25,299.01 L463.50,298.98 L463.75,298.96 L464.00,298.93 L464.25,298.91 L464.50,298.88 L464.75,298.86 L465.00,298.83 L465.25,298.81 L465.50,298.78 L465.75,298.75 L466.00,298.73 L466.25,298.70 L466.50,298.67 L466.75,298.64 L467.00,298.62 L467.25,298.59 L467.50,298.56 L467.75,298.53 L468.00,298.50 L468.25,298.47 L468.50,298.44 L468.75,298.41 L469.00,298.38 L469.25,298.35 L469.50,298.31 L469.75,298.28 L470.00,298.25 L470.25,298.21 L470.50,298.18 L470.75,298.15 L471.00,298.11 L471.25,298.08 L471.50,298.04 L471.75,298.01 L472.00,297.97 L472.25,297.94 L472.50,297.90 L472.75,297.86 L473.00,297.83 L473.25,297.79 L473.50,297.76 L473.75,297.72 L474.00,297.68 L474.25,297.65 L474.50,297.61 L474.75,297.57 L475.00,297.54 L475.25,297.50 L475.50,297.46 L475.75,297.42 L476.00,297.39 L476.25,297.35 L476.50,297.31 L476.75,297.27 L477.00,297.23 L477.25,297.19 L477.50,297.15 L477.75,297.11 L478.00,297.07 L478.25,297.03 L478.50,296.99 L478.75,296.95 L479.00,296.91 L479.25,296.87 L479.50,296.83 L479.75,296.79 L480.00,296.75 L480.25,296.71 L480.50,296.67 L480.75,296.63 L481.00,296.58 L481.25,296.54 L481.50,296.50 L481.75,296.46 L482.00,296.41 L482.25,296.37 L482.50,296.33" fill="none" stroke="#ff0000" stroke-width="1.3" stroke-linejoin="round"/>
<path d="M49.70,296.33 L50.20,296.41 L50.70,296.50 L51.20,296.58 L51.30,296.60 L51.70,296.67 L52.20,296.75 L52.70,296.83 L53.20,296.91 L53.70,296.99 L54.20,297.07 L54.70,297.15 L55.20,297.23 L55.70,297.31 L56.20,297.39 L56.70,297.46 L57.20,297.54 L57.70,297.61 L58.20,297.68 L58.70,297.76 L59.00,297.80 L59.20,297.83 L59.70,297.90 L60.20,297.97 L60.70,298.04 L61.20,298.11 L61.70,298.18 L62.20,298.25 L62.70,298.31 L63.20,298.38 L63.70,298.44 L64.20,298.50 L64.70,298.56 L65.20,298.62 L65.70,298.67 L66.20,298.73 L66.70,298.78 L67.20,298.83 L67.70,298.88 L68.20,298.93 L68.70,298.98 L69.20,299.03 L69.70,299.08 L70.20,299.13 L70.70,299.18 L71.20,299.23 L71.70,299.28 L72.20,299.32 L72.70,299.37 L73.00,299.40 L73.20,299.42 L73.70,299.47 L74.20,299.51 L74.70,299.56 L75.20,299.60 L75.70,299.65 L76.20,299.69 L76.70,299.74 L77.20,299.78 L77.70,299.82 L78.00,299.85 L78.20,299.87 L78.70,299.91 L79.20,299.95 L79.70,300.00 L80.20,300.04 L80.70,300.09 L81.20,300.13 L81.70,300.17 L82.20,300.21 L82.70,300.26 L83.20,300.30 L83.70,300.34 L84.20,300.38 L84.70,300.42 L85.20,300.46 L85.70,300.50 L86.20,300.54 L86.70,300.58 L87.00,300.60 L87.20,300.61 L87.70,300.65 L88.20,300.69 L88.70,300.73 L89.20,300.76 L89.70,300.80 L90.20,300.83 L90.70,300.87 L91.20,300.90 L91.70,300.93 L92.20,300.96 L92.70,300.98 L93.00,301.00 L93.20,301.01 L93.70,301.03 L94.20,301.06 L94.70,301.08 L95.20,301.10 L95.70,301.12 L96.20,301.14 L96.70,301.16 L97.20,301.17 L97.70,301.19 L98.20,301.21 L98.70,301.23 L99.20,301.24 L99.70,301.26 L100.20,301.27 L100.70,301.29 L101.00,301.30 L101.20,301.31 L101.70,301.32 L102.20,301.34 L102.70,301.36 L103.20,301.38 L103.70,301.39 L104.20,301.41 L104.70,301.43 L105.20,301.44 L105.70,301.46 L106.20,301.47 L106.70,301.48 L107.20,301.49 L107.70,301.50 L108.00,301.50 L108.20,301.50 L108.70,301.51 L109.20,301.51 L109.70,301.52 L110.20,301.52 L110.70,301.53 L111.20,301.53 L111.70,301.53 L112.20,301.54 L112.70,301.54 L113.20,301.54 L113.70,301.54 L114.20,301.55 L114.70,301.55 L115.20,301.55 L115.70,301.55 L116.00,301.55 L116.20,301.55 L116.70,301.55 L117.20,301.54 L117.70,301.54 L118.20,301.53 L118.70,301.52 L119.20,301.51 L119.70,301.50 L120.20,301.48 L120.70,301.47 L121.20,301.46 L121.70,301.44 L122.20,301.43 L122.70,301.41 L123.00,301.40 L123.20,301.39 L123.70,301.38 L124.20,301.35 L124.70,301.33 L125.20,301.31 L125.70,301.28 L126.20,301.25 L126.70,301.22 L127.20,301.18 L127.70,301.15 L128.20,301.11 L128.70,301.08 L129.20,301.04 L129.70,301.00 L130.20,300.96 L130.70,300.91 L131.20,300.87 L131.70,300.83 L132.00,300.80 L132.20,300.78 L132.70,300.73 L133.20,300.68 L133.70,300.62 L134.20,300.56 L134.70,300.49 L135.20,300.43 L135.70,300.36 L136.20,300.29 L136.70,300.22 L137.20,300.15 L137.70,300.09 L138.00,300.05 L138.20,300.03 L138.70,299.96 L139.20,299.90 L139.70,299.84 L140.20,299.78 L140.70,299.72 L141.20,299.66 L141.70,299.60 L142.20,299.54 L142.70,299.47 L143.20,299.41 L143.70,299.34 L144.00,299.30 L144.20,299.27 L144.70,299.20 L145.20,299.13 L145.70,299.06 L146.20,298.99 L146.70,298.92 L147.20,298.85 L147.70,298.77 L148.20,298.69 L148.70,298.62 L149.20,298.53 L149.70,298.45 L150.00,298.40 L150.20,298.37 L150.70,298.28 L151.20,298.18 L151.70,298.09 L152.20,297.99 L152.70,297.89 L153.20,297.79 L153.70,297.69 L154.20,297.58 L154.70,297.48 L155.20,297.37 L155.70,297.26 L156.00,297.20 L156.20,297.16 L156.70,297.05 L157.20,296.94 L157.70,296.84 L158.20,296.73 L158.70,296.62 L159.20,296.50 L159.70,296.39 L160.20,296.27 L160.70,296.14 L161.20,296.02 L161.70,295.88 L162.00,295.80 L162.20,295.74 L162.70,295.60 L163.20,295.44 L163.70,295.29 L164.20,295.12 L164.70,294.95 L165.20,294.77 L165.70,294.59 L166.20,294.41 L166.70,294.22 L167.20,294.02 L167.70,293.82 L168.00,293.70 L168.20,293.62 L168.70,293.41 L169.20,293.19 L169.70,292.96 L170.20,292.71 L170.70,292.46 L171.00,292.30 L171.20,292.19 L171.70,291.90 L172.20,291.59 L172.70,291.27 L173.20,290.94 L173.70,290.60 L174.00,290.40 L174.20,290.26 L174.70,289.91 L175.20,289.55 L175.70,289.18 L176.20,288.81 L176.70,288.43 L177.00,288.20 L177.20,288.05 L177.70,287.67 L178.20,287.29 L178.70,286.91 L179.20,286.52 L179.70,286.13 L180.20,285.73 L180.70,285.32 L181.20,284.90 L181.70,284.48 L182.20,284.05 L182.70,283.62 L183.20,283.17 L183.70,282.71 L184.20,282.22 L184.70,281.71 L184.80,281.60 L185.20,281.16 L185.70,280.58 L186.20,279.96 L186.70,279.30 L187.20,278.60 L187.70,277.86 L187.80,277.70 L188.20,277.04 L188.70,276.13 L189.20,275.14 L189.70,274.11 L190.20,273.04 L190.50,272.40 L190.70,271.96 L191.20,270.82 L191.70,269.64 L192.20,268.44 L192.30,268.20 L192.70,267.24 L193.20,266.03 L193.70,264.81 L194.20,263.59 L194.40,263.10 L194.70,262.35 L195.20,261.03 L195.70,259.73 L196.20,258.57 L196.50,258.00 L196.70,257.66 L197.20,256.85 L197.70,256.14 L198.20,255.56 L198.50,255.30 L198.70,255.15 L199.20,254.78 L199.70,254.47 L200.20,254.26 L200.60,254.20 L200.70,254.21 L201.20,254.47 L201.70,255.02 L202.20,255.73 L202.50,256.20 L202.70,256.57 L203.20,257.85 L203.70,259.43 L204.00,260.40 L204.20,261.06 L204.70,262.89 L205.20,264.82 L205.70,266.66 L205.80,267.00 L206.20,268.26 L206.70,269.80 L207.20,271.44 L207.70,273.13 L208.20,274.81 L208.50,275.80 L208.70,276.46 L209.20,278.12 L209.70,279.74 L210.20,281.23 L210.30,281.50 L210.70,282.55 L211.20,283.78 L211.70,284.93 L212.20,285.99 L212.40,286.40 L212.70,286.97 L213.20,287.85 L213.40,288.20 L213.70,288.75 L214.20,289.66 L214.40,290.00 L214.70,290.47 L215.20,291.19 L215.70,291.88 L216.20,292.60 L216.70,293.39 L217.20,294.20 L217.70,294.90 L218.20,295.47 L218.70,295.98 L219.20,296.45 L219.70,296.91 L219.80,297.00 L220.20,297.36 L220.70,297.81 L221.20,298.23 L221.70,298.64 L221.90,298.80 L222.20,299.03 L222.70,299.40 L223.20,299.76 L223.70,300.10 L224.00,300.30 L224.20,300.43 L224.70,300.76 L225.20,301.07 L225.70,301.38 L226.20,301.68 L226.40,301.80 L226.70,301.98 L227.20,302.27 L227.70,302.57 L228.20,302.85 L228.70,303.13 L229.20,303.40 L229.40,303.50 L229.70,303.65 L230.20,303.90 L230.70,304.14 L231.20,304.37 L231.70,304.58 L232.00,304.70 L232.20,304.77 L232.70,304.95 L233.20,305.12 L233.70,305.29 L234.20,305.44 L234.70,305.60 L235.20,305.74 L235.70,305.88 L236.20,306.02 L236.70,306.16 L237.20,306.29 L237.70,306.42 L238.00,306.50 L238.20,306.55 L238.70,306.68 L239.20,306.81 L239.70,306.94 L240.20,307.06 L240.70,307.18 L241.20,307.30 L241.70,307.41 L242.20,307.53 L242.70,307.63 L243.20,307.74 L243.70,307.84 L244.00,307.90 L244.20,307.94 L244.70,308.03 L245.20,308.13 L245.70,308.22 L246.20,308.31 L246.70,308.39 L247.20,308.48 L247.70,308.56 L248.20,308.64 L248.70,308.71 L249.20,308.79 L249.70,308.86 L250.00,308.90 L250.20,308.93 L250.70,309.00 L251.20,309.06 L251.70,309.13 L252.20,309.20 L252.70,309.26 L253.20,309.32 L253.70,309.38 L254.20,309.44 L254.70,309.49 L255.20,309.54 L255.70,309.58 L256.00,309.60 L256.20,309.61 L256.70,309.65 L257.20,309.68 L257.70,309.71 L258.20,309.74 L258.70,309.76 L259.20,309.79 L259.70,309.81 L260.20,309.83 L260.70,309.85 L261.20,309.87 L261.70,309.89 L262.00,309.90 L262.20,309.91 L262.70,309.92 L263.20,309.94 L263.70,309.95 L264.20,309.96 L264.70,309.97 L265.20,309.98 L265.70,309.99 L266.10,310.00 L266.50,309.99 L267.00,309.98 L267.50,309.97 L268.00,309.96 L268.50,309.95 L269.00,309.94 L269.50,309.92 L270.00,309.91 L270.20,309.90 L270.50,309.89 L271.00,309.87 L271.50,309.85 L272.00,309.83 L272.50,309.81 L273.00,309.79 L273.50,309.76 L274.00,309.74 L274.50,309.71 L275.00,309.68 L275.50,309.65 L276.00,309.61 L276.20,309.60 L276.50,309.58 L277.00,309.54 L277.50,309.49 L278.00,309.44 L278.50,309.38 L279.00,309.32 L279.50,309.26 L280.00,309.20 L280.50,309.13 L281.00,309.06 L281.50,309.00 L282.00,308.93 L282.20,308.90 L282.50,308.86 L283.00,308.79 L283.50,308.71 L284.00,308.64 L284.50,308.56 L285.00,308.48 L285.50,308.39 L286.00,308.31 L286.50,308.22 L287.00,308.13 L287.50,308.03 L288.00,307.94 L288.20,307.90 L288.50,307.84 L289.00,307.74 L289.50,307.63 L290.00,307.53 L290.50,307.41 L291.00,307.30 L291.50,307.18 L292.00,307.06 L292.50,306.94 L293.00,306.81 L293.50,306.68 L294.00,306.55 L294.20,306.50 L294.50,306.42 L295.00,306.29 L295.50,306.16 L296.00,306.02 L296.50,305.88 L297.00,305.74 L297.50,305.60 L298.00,305.44 L298.50,305.29 L299.00,305.12 L299.50,304.95 L300.00,304.77 L300.20,304.70 L300.50,304.58 L301.00,304.37 L301.50,304.14 L302.00,303.90 L302.50,303.65 L302.80,303.50 L303.00,303.40 L303.50,303.13 L304.00,302.85 L304.50,302.57 L305.00,302.27 L305.50,301.98 L305.80,301.80 L306.00,301.68 L306.50,301.38 L307.00,301.07 L307.50,300.76 L308.00,300.43 L308.20,300.30 L308.50,300.10 L309.00,299.76 L309.50,299.40 L310.00,299.03 L310.30,298.80 L310.50,298.64 L311.00,298.23 L311.50,297.81 L312.00,297.36 L312.40,297.00 L312.50,296.91 L313.00,296.45 L313.50,295.98 L314.00,295.47 L314.50,294.90 L315.00,294.20 L315.50,293.39 L316.00,292.60 L316.50,291.88 L317.00,291.19 L317.50,290.47 L317.80,290.00 L318.00,289.66 L318.50,288.75 L318.80,288.20 L319.00,287.85 L319.50,286.97 L319.80,286.40 L320.00,285.99 L320.50,284.93 L321.00,283.78 L321.50,282.55 L321.90,281.50 L322.00,281.23 L322.50,279.74 L323.00,278.12 L323.50,276.46 L323.70,275.80 L324.00,274.81 L324.50,273.13 L325.00,271.44 L325.50,269.80 L326.00,268.26 L326.40,267.00 L326.50,266.66 L327.00,264.82 L327.50,262.89 L328.00,261.06 L328.20,260.40 L328.50,259.43 L329.00,257.85 L329.50,256.57 L329.70,256.20 L330.00,255.73 L330.50,255.02 L331.00,254.47 L331.50,254.21 L331.60,254.20 L332.00,254.26 L332.50,254.47 L333.00,254.78 L333.50,255.15 L333.70,255.30 L334.00,255.56 L334.50,256.14 L335.00,256.85 L335.50,257.66 L335.70,258.00 L336.00,258.57 L336.50,259.73 L337.00,261.03 L337.50,262.35 L337.80,263.10 L338.00,263.59 L338.50,264.81 L339.00,266.03 L339.50,267.24 L339.90,268.20 L340.00,268.44 L340.50,269.64 L341.00,270.82 L341.50,271.96 L341.70,272.40 L342.00,273.04 L342.50,274.11 L343.00,275.14 L343.50,276.13 L344.00,277.04 L344.40,277.70 L344.50,277.86 L345.00,278.60 L345.50,279.30 L346.00,279.96 L346.50,280.58 L347.00,281.16 L347.40,281.60 L347.50,281.71 L348.00,282.22 L348.50,282.71 L349.00,283.17 L349.50,283.62 L350.00,284.05 L350.50,284.48 L351.00,284.90 L351.50,285.32 L352.00,285.73 L352.50,286.13 L353.00,286.52 L353.50,286.91 L354.00,287.29 L354.50,287.67 L355.00,288.05 L355.20,288.20 L355.50,288.43 L356.00,288.81 L356.50,289.18 L357.00,289.55 L357.50,289.91 L358.00,290.26 L358.20,290.40 L358.50,290.60 L359.00,290.94 L359.50,291.27 L360.00,291.59 L360.50,291.90 L361.00,292.19 L361.20,292.30 L361.50,292.46 L362.00,292.71 L362.50,292.96 L363.00,293.19 L363.50,293.41 L364.00,293.62 L364.20,293.70 L364.50,293.82 L365.00,294.02 L365.50,294.22 L366.00,294.41 L366.50,294.59 L367.00,294.77 L367.50,294.95 L368.00,295.12 L368.50,295.29 L369.00,295.44 L369.50,295.60 L370.00,295.74 L370.20,295.80 L370.50,295.88 L371.00,296.02 L371.50,296.14 L372.00,296.27 L372.50,296.39 L373.00,296.50 L373.50,296.62 L374.00,296.73 L374.50,296.84 L375.00,296.94 L375.50,297.05 L376.00,297.16 L376.20,297.20 L376.50,297.26 L377.00,297.37 L377.50,297.48 L378.00,297.58 L378.50,297.69 L379.00,297.79 L379.50,297.89 L380.00,297.99 L380.50,298.09 L381.00,298.18 L381.50,298.28 L382.00,298.37 L382.20,298.40 L382.50,298.45 L383.00,298.53 L383.50,298.62 L384.00,298.69 L384.50,298.77 L385.00,298.85 L385.50,298.92 L386.00,298.99 L386.50,299.06 L387.00,299.13 L387.50,299.20 L388.00,299.27 L388.20,299.30 L388.50,299.34 L389.00,299.41 L389.50,299.47 L390.00,299.54 L390.50,299.60 L391.00,299.66 L391.50,299.72 L392.00,299.78 L392.50,299.84 L393.00,299.90 L393.50,299.96 L394.00,300.03 L394.20,300.05 L394.50,300.09 L395.00,300.15 L395.50,300.22 L396.00,300.29 L396.50,300.36 L397.00,300.43 L397.50,300.49 L398.00,300.56 L398.50,300.62 L399.00,300.68 L399.50,300.73 L400.00,300.78 L400.20,300.80 L400.50,300.83 L401.00,300.87 L401.50,300.91 L402.00,300.96 L402.50,301.00 L403.00,301.04 L403.50,301.08 L404.00,301.11 L404.50,301.15 L405.00,301.18 L405.50,301.22 L406.00,301.25 L406.50,301.28 L407.00,301.31 L407.50,301.33 L408.00,301.35 L408.50,301.38 L409.00,301.39 L409.20,301.40 L409.50,301.41 L410.00,301.43 L410.50,301.44 L411.00,301.46 L411.50,301.47 L412.00,301.48 L412.50,301.50 L413.00,301.51 L413.50,301.52 L414.00,301.53 L414.50,301.54 L415.00,301.54 L415.50,301.55 L416.00,301.55 L416.20,301.55 L416.50,301.55 L417.00,301.55 L417.50,301.55 L418.00,301.55 L418.50,301.54 L419.00,301.54 L419.50,301.54 L420.00,301.54 L420.50,301.53 L421.00,301.53 L421.50,301.53 L422.00,301.52 L422.50,301.52 L423.00,301.51 L423.50,301.51 L424.00,301.50 L424.20,301.50 L424.50,301.50 L425.00,301.49 L425.50,301.48 L426.00,301.47 L426.50,301.46 L427.00,301.44 L427.50,301.43 L428.00,301.41 L428.50,301.39 L429.00,301.38 L429.50,301.36 L430.00,301.34 L430.50,301.32 L431.00,301.31 L431.20,301.30 L431.50,301.29 L432.00,301.27 L432.50,301.26 L433.00,301.24 L433.50,301.23 L434.00,301.21 L434.50,301.19 L435.00,301.17 L435.50,301.16 L436.00,301.14 L436.50,301.12 L437.00,301.10 L437.50,301.08 L438.00,301.06 L438.50,301.03 L439.00,301.01 L439.20,301.00 L439.50,300.98 L440.00,300.96 L440.50,300.93 L441.00,300.90 L441.50,300.87 L442.00,300.83 L442.50,300.80 L443.00,300.76 L443.50,300.73 L444.00,300.69 L444.50,300.65 L445.00,300.61 L445.20,300.60 L445.50,300.58 L446.00,300.54 L446.50,300.50 L447.00,300.46 L447.50,300.42 L448.00,300.38 L448.50,300.34 L449.00,300.30 L449.50,300.26 L450.00,300.21 L450.50,300.17 L451.00,300.13 L451.50,300.09 L452.00,300.04 L452.50,300.00 L453.00,299.95 L453.50,299.91 L454.00,299.87 L454.20,299.85 L454.50,299.82 L455.00,299.78 L455.50,299.74 L456.00,299.69 L456.50,299.65 L457.00,299.60 L457.50,299.56 L458.00,299.51 L458.50,299.47 L459.00,299.42 L459.20,299.40 L459.50,299.37 L460.00,299.32 L460.50,299.28 L461.00,299.23 L461.50,299.18 L462.00,299.13 L462.50,299.08 L463.00,299.03 L463.50,298.98 L464.00,298.93 L464.50,298.88 L465.00,298.83 L465.50,298.78 L466.00,298.73 L466.50,298.67 L467.00,298.62 L467.50,298.56 L468.00,298.50 L468.50,298.44 L469.00,298.38 L469.50,298.31 L470.00,298.25 L470.50,298.18 L471.00,298.11 L471.50,298.04 L472.00,297.97 L472.50,297.90 L473.00,297.83 L473.20,297.80 L473.50,297.76 L474.00,297.68 L474.50,297.61 L475.00,297.54 L475.50,297.46 L476.00,297.39 L476.50,297.31 L477.00,297.23 L477.50,297.15 L478.00,297.07 L478.50,296.99 L479.00,296.91 L479.50,296.83 L480.00,296.75 L480.50,296.67 L480.90,296.60 L481.00,296.58 L481.50,296.50 L482.00,296.41 L482.50,296.33" fill="none" stroke="#ffffff" stroke-width="1.5" stroke-dasharray="3.9 1.7"/>
<path d="M49.70,296.33 L50.20,296.41 L50.70,296.50 L51.20,296.58 L51.30,296.60 L51.70,296.67 L52.20,296.75 L52.70,296.83 L53.20,296.91 L53.70,296.99 L54.20,297.07 L54.70,297.15 L55.20,297.23 L55.70,297.31 L56.20,297.39 L56.70,297.46 L57.20,297.54 L57.70,297.61 L58.20,297.68 L58.70,297.76 L59.00,297.80 L59.20,297.83 L59.70,297.90 L60.20,297.97 L60.70,298.04 L61.20,298.11 L61.70,298.18 L62.20,298.25 L62.70,298.31 L63.20,298.38 L63.70,298.44 L64.20,298.50 L64.70,298.56 L65.20,298.62 L65.70,298.67 L66.20,298.73 L66.70,298.78 L67.20,298.83 L67.70,298.88 L68.20,298.93 L68.70,298.98 L69.20,299.03 L69.70,299.08 L70.20,299.13 L70.70,299.18 L71.20,299.23 L71.70,299.28 L72.20,299.32 L72.70,299.37 L73.00,299.40 L73.20,299.42 L73.70,299.47 L74.20,299.51 L74.70,299.56 L75.20,299.60 L75.70,299.65 L76.20,299.69 L76.70,299.74 L77.20,299.78 L77.70,299.82 L78.00,299.85 L78.20,299.87 L78.70,299.91 L79.20,299.95 L79.70,300.00 L80.20,300.04 L80.70,300.09 L81.20,300.13 L81.70,300.17 L82.20,300.21 L82.70,300.26 L83.20,300.30 L83.70,300.34 L84.20,300.38 L84.70,300.42 L85.20,300.46 L85.70,300.50 L86.20,300.54 L86.70,300.58 L87.00,300.60 L87.20,300.61 L87.70,300.65 L88.20,300.69 L88.70,300.73 L89.20,300.76 L89.70,300.80 L90.20,300.83 L90.70,300.87 L91.20,300.90 L91.70,300.93 L92.20,300.96 L92.70,300.98 L93.00,301.00 L93.20,301.01 L93.70,301.03 L94.20,301.06 L94.70,301.08 L95.20,301.10 L95.70,301.12 L96.20,301.14 L96.70,301.16 L97.20,301.17 L97.70,301.19 L98.20,301.21 L98.70,301.23 L99.20,301.24 L99.70,301.26 L100.20,301.27 L100.70,301.29 L101.00,301.30 L101.20,301.31 L101.70,301.32 L102.20,301.34 L102.70,301.36 L103.20,301.38 L103.70,301.39 L104.20,301.41 L104.70,301.43 L105.20,301.44 L105.70,301.46 L106.20,301.47 L106.70,301.48 L107.20,301.49 L107.70,301.50 L108.00,301.50 L108.20,301.50 L108.70,301.51 L109.20,301.51 L109.70,301.52 L110.20,301.52 L110.70,301.53 L111.20,301.53 L111.70,301.53 L112.20,301.54 L112.70,301.54 L113.20,301.54 L113.70,301.54 L114.20,301.55 L114.70,301.55 L115.20,301.55 L115.70,301.55 L116.00,301.55 L116.20,301.55 L116.70,301.55 L117.20,301.54 L117.70,301.54 L118.20,301.53 L118.70,301.52 L119.20,301.51 L119.70,301.50 L120.20,301.48 L120.70,301.47 L121.20,301.46 L121.70,301.44 L122.20,301.43 L122.70,301.41 L123.00,301.40 L123.20,301.39 L123.70,301.38 L124.20,301.35 L124.70,301.33 L125.20,301.31 L125.70,301.28 L126.20,301.25 L126.70,301.22 L127.20,301.18 L127.70,301.15 L128.20,301.11 L128.70,301.08 L129.20,301.04 L129.70,301.00 L130.20,300.96 L130.70,300.91 L131.20,300.87 L131.70,300.83 L132.00,300.80 L132.20,300.78 L132.70,300.73 L133.20,300.68 L133.70,300.62 L134.20,300.56 L134.70,300.49 L135.20,300.43 L135.70,300.36 L136.20,300.29 L136.70,300.22 L137.20,300.15 L137.70,300.09 L138.00,300.05 L138.20,300.03 L138.70,299.96 L139.20,299.90 L139.70,299.84 L140.20,299.78 L140.70,299.72 L141.20,299.66 L141.70,299.60 L142.20,299.54 L142.70,299.47 L143.20,299.41 L143.70,299.34 L144.00,299.30 L144.20,299.27 L144.70,299.20 L145.20,299.13 L145.70,299.06 L146.20,298.99 L146.70,298.92 L147.20,298.85 L147.70,298.77 L148.20,298.69 L148.70,298.62 L149.20,298.53 L149.70,298.45 L150.00,298.40 L150.20,298.37 L150.70,298.28 L151.20,298.18 L151.70,298.09 L152.20,297.99 L152.70,297.89 L153.20,297.79 L153.70,297.69 L154.20,297.58 L154.70,297.48 L155.20,297.37 L155.70,297.26 L156.00,297.20 L156.20,297.16 L156.70,297.05 L157.20,296.94 L157.70,296.84 L158.20,296.73 L158.70,296.62 L159.20,296.50 L159.70,296.39 L160.20,296.27 L160.70,296.14 L161.20,296.02 L161.70,295.88 L162.00,295.80 L162.20,295.74 L162.70,295.60 L163.20,295.44 L163.70,295.29 L164.20,295.12 L164.70,294.95 L165.20,294.77 L165.70,294.59 L166.20,294.41 L166.70,294.22 L167.20,294.02 L167.70,293.82 L168.00,293.70 L168.20,293.62 L168.70,293.41 L169.20,293.19 L169.70,292.96 L170.20,292.71 L170.70,292.46 L171.00,292.30 L171.20,292.19 L171.70,291.90 L172.20,291.59 L172.70,291.27 L173.20,290.94 L173.70,290.60 L174.00,290.40 L174.20,290.26 L174.70,289.91 L175.20,289.55 L175.70,289.18 L176.20,288.81 L176.70,288.43 L177.00,288.20 L177.20,288.05 L177.70,287.67 L178.20,287.29 L178.70,286.91 L179.20,286.52 L179.70,286.13 L180.20,285.73 L180.70,285.32 L181.20,284.90 L181.70,284.48 L182.20,284.05 L182.70,283.62 L183.20,283.17 L183.70,282.71 L184.20,282.22 L184.70,281.71 L184.80,281.60 L185.20,281.16 L185.70,280.58 L186.20,279.96 L186.70,279.30 L187.20,278.60 L187.70,277.86 L187.80,277.70 L188.20,277.04 L188.70,276.13 L189.20,275.14 L189.70,274.11 L190.20,273.04 L190.50,272.40 L190.70,271.96 L191.20,270.82 L191.70,269.64 L192.20,268.44 L192.30,268.20 L192.70,267.24 L193.20,266.03 L193.70,264.81 L194.20,263.59 L194.40,263.10 L194.70,262.35 L195.20,261.03 L195.70,259.73 L196.20,258.57 L196.50,258.00 L196.70,257.66 L197.20,256.85 L197.70,256.14 L198.20,255.56 L198.50,255.30 L198.70,255.15 L199.20,254.78 L199.70,254.47 L200.20,254.26 L200.60,254.20 L200.70,254.21 L201.20,254.47 L201.70,255.02 L202.20,255.73 L202.50,256.20 L202.70,256.57 L203.20,257.85 L203.70,259.43 L204.00,260.40 L204.20,261.06 L204.70,262.89 L205.20,264.82 L205.70,266.66 L205.80,267.00 L206.20,268.26 L206.70,269.80 L207.20,271.44 L207.70,273.13 L208.20,274.81 L208.50,275.80 L208.70,276.46 L209.20,278.12 L209.70,279.74 L210.20,281.23 L210.30,281.50 L210.70,282.55 L211.20,283.78 L211.70,284.93 L212.20,285.99 L212.40,286.40 L212.70,286.97 L213.20,287.85 L213.40,288.20 L213.70,288.75 L214.20,289.66 L214.40,290.00 L214.70,290.47 L215.20,291.19 L215.70,291.88 L216.20,292.60 L216.70,293.39 L217.20,294.20 L217.70,294.90 L218.20,295.47 L218.70,295.98 L219.20,296.45 L219.70,296.91 L219.80,297.00 L220.20,297.36 L220.70,297.81 L221.20,298.23 L221.70,298.64 L221.90,298.80 L222.20,299.03 L222.70,299.40 L223.20,299.76 L223.70,300.10 L224.00,300.30 L224.20,300.43 L224.70,300.76 L225.20,301.07 L225.70,301.38 L226.20,301.68 L226.40,301.80 L226.70,301.98 L227.20,302.27 L227.70,302.57 L228.20,302.85 L228.70,303.13 L229.20,303.40 L229.40,303.50 L229.70,303.65 L230.20,303.90 L230.70,304.14 L231.20,304.37 L231.70,304.58 L232.00,304.70 L232.20,304.77 L232.70,304.95 L233.20,305.12 L233.70,305.29 L234.20,305.44 L234.70,305.60 L235.20,305.74 L235.70,305.88 L236.20,306.02 L236.70,306.16 L237.20,306.29 L237.70,306.42 L238.00,306.50 L238.20,306.55 L238.70,306.68 L239.20,306.81 L239.70,306.94 L240.20,307.06 L240.70,307.18 L241.20,307.30 L241.70,307.41 L242.20,307.53 L242.70,307.63 L243.20,307.74 L243.70,307.84 L244.00,307.90 L244.20,307.94 L244.70,308.03 L245.20,308.13 L245.70,308.22 L246.20,308.31 L246.70,308.39 L247.20,308.48 L247.70,308.56 L248.20,308.64 L248.70,308.71 L249.20,308.79 L249.70,308.86 L250.00,308.90 L250.20,308.93 L250.70,309.00 L251.20,309.06 L251.70,309.13 L252.20,309.20 L252.70,309.26 L253.20,309.32 L253.70,309.38 L254.20,309.44 L254.70,309.49 L255.20,309.54 L255.70,309.58 L256.00,309.60 L256.20,309.61 L256.70,309.65 L257.20,309.68 L257.70,309.71 L258.20,309.74 L258.70,309.76 L259.20,309.79 L259.70,309.81 L260.20,309.83 L260.70,309.85 L261.20,309.87 L261.70,309.89 L262.00,309.90 L262.20,309.91 L262.70,309.92 L263.20,309.94 L263.70,309.95 L264.20,309.96 L264.70,309.97 L265.20,309.98 L265.70,309.99 L266.10,310.00 L266.50,309.99 L267.00,309.98 L267.50,309.97 L268.00,309.96 L268.50,309.95 L269.00,309.94 L269.50,309.92 L270.00,309.91 L270.20,309.90 L270.50,309.89 L271.00,309.87 L271.50,309.85 L272.00,309.83 L272.50,309.81 L273.00,309.79 L273.50,309.76 L274.00,309.74 L274.50,309.71 L275.00,309.68 L275.50,309.65 L276.00,309.61 L276.20,309.60 L276.50,309.58 L277.00,309.54 L277.50,309.49 L278.00,309.44 L278.50,309.38 L279.00,309.32 L279.50,309.26 L280.00,309.20 L280.50,309.13 L281.00,309.06 L281.50,309.00 L282.00,308.93 L282.20,308.90 L282.50,308.86 L283.00,308.79 L283.50,308.71 L284.00,308.64 L284.50,308.56 L285.00,308.48 L285.50,308.39 L286.00,308.31 L286.50,308.22 L287.00,308.13 L287.50,308.03 L288.00,307.94 L288.20,307.90 L288.50,307.84 L289.00,307.74 L289.50,307.63 L290.00,307.53 L290.50,307.41 L291.00,307.30 L291.50,307.18 L292.00,307.06 L292.50,306.94 L293.00,306.81 L293.50,306.68 L294.00,306.55 L294.20,306.50 L294.50,306.42 L295.00,306.29 L295.50,306.16 L296.00,306.02 L296.50,305.88 L297.00,305.74 L297.50,305.60 L298.00,305.44 L298.50,305.29 L299.00,305.12 L299.50,304.95 L300.00,304.77 L300.20,304.70 L300.50,304.58 L301.00,304.37 L301.50,304.14 L302.00,303.90 L302.50,303.65 L302.80,303.50 L303.00,303.40 L303.50,303.13 L304.00,302.85 L304.50,302.57 L305.00,302.27 L305.50,301.98 L305.80,301.80 L306.00,301.68 L306.50,301.38 L307.00,301.07 L307.50,300.76 L308.00,300.43 L308.20,300.30 L308.50,300.10 L309.00,299.76 L309.50,299.40 L310.00,299.03 L310.30,298.80 L310.50,298.64 L311.00,298.23 L311.50,297.81 L312.00,297.36 L312.40,297.00 L312.50,296.91 L313.00,296.45 L313.50,295.98 L314.00,295.47 L314.50,294.90 L315.00,294.20 L315.50,293.39 L316.00,292.60 L316.50,291.88 L317.00,291.19 L317.50,290.47 L317.80,290.00 L318.00,289.66 L318.50,288.75 L318.80,288.20 L319.00,287.85 L319.50,286.97 L319.80,286.40 L320.00,285.99 L320.50,284.93 L321.00,283.78 L321.50,282.55 L321.90,281.50 L322.00,281.23 L322.50,279.74 L323.00,278.12 L323.50,276.46 L323.70,275.80 L324.00,274.81 L324.50,273.13 L325.00,271.44 L325.50,269.80 L326.00,268.26 L326.40,267.00 L326.50,266.66 L327.00,264.82 L327.50,262.89 L328.00,261.06 L328.20,260.40 L328.50,259.43 L329.00,257.85 L329.50,256.57 L329.70,256.20 L330.00,255.73 L330.50,255.02 L331.00,254.47 L331.50,254.21 L331.60,254.20 L332.00,254.26 L332.50,254.47 L333.00,254.78 L333.50,255.15 L333.70,255.30 L334.00,255.56 L334.50,256.14 L335.00,256.85 L335.50,257.66 L335.70,258.00 L336.00,258.57 L336.50,259.73 L337.00,261.03 L337.50,262.35 L337.80,263.10 L338.00,263.59 L338.50,264.81 L339.00,266.03 L339.50,267.24 L339.90,268.20 L340.00,268.44 L340.50,269.64 L341.00,270.82 L341.50,271.96 L341.70,272.40 L342.00,273.04 L342.50,274.11 L343.00,275.14 L343.50,276.13 L344.00,277.04 L344.40,277.70 L344.50,277.86 L345.00,278.60 L345.50,279.30 L346.00,279.96 L346.50,280.58 L347.00,281.16 L347.40,281.60 L347.50,281.71 L348.00,282.22 L348.50,282.71 L349.00,283.17 L349.50,283.62 L350.00,284.05 L350.50,284.48 L351.00,284.90 L351.50,285.32 L352.00,285.73 L352.50,286.13 L353.00,286.52 L353.50,286.91 L354.00,287.29 L354.50,287.67 L355.00,288.05 L355.20,288.20 L355.50,288.43 L356.00,288.81 L356.50,289.18 L357.00,289.55 L357.50,289.91 L358.00,290.26 L358.20,290.40 L358.50,290.60 L359.00,290.94 L359.50,291.27 L360.00,291.59 L360.50,291.90 L361.00,292.19 L361.20,292.30 L361.50,292.46 L362.00,292.71 L362.50,292.96 L363.00,293.19 L363.50,293.41 L364.00,293.62 L364.20,293.70 L364.50,293.82 L365.00,294.02 L365.50,294.22 L366.00,294.41 L366.50,294.59 L367.00,294.77 L367.50,294.95 L368.00,295.12 L368.50,295.29 L369.00,295.44 L369.50,295.60 L370.00,295.74 L370.20,295.80 L370.50,295.88 L371.00,296.02 L371.50,296.14 L372.00,296.27 L372.50,296.39 L373.00,296.50 L373.50,296.62 L374.00,296.73 L374.50,296.84 L375.00,296.94 L375.50,297.05 L376.00,297.16 L376.20,297.20 L376.50,297.26 L377.00,297.37 L377.50,297.48 L378.00,297.58 L378.50,297.69 L379.00,297.79 L379.50,297.89 L380.00,297.99 L380.50,298.09 L381.00,298.18 L381.50,298.28 L382.00,298.37 L382.20,298.40 L382.50,298.45 L383.00,298.53 L383.50,298.62 L384.00,298.69 L384.50,298.77 L385.00,298.85 L385.50,298.92 L386.00,298.99 L386.50,299.06 L387.00,299.13 L387.50,299.20 L388.00,299.27 L388.20,299.30 L388.50,299.34 L389.00,299.41 L389.50,299.47 L390.00,299.54 L390.50,299.60 L391.00,299.66 L391.50,299.72 L392.00,299.78 L392.50,299.84 L393.00,299.90 L393.50,299.96 L394.00,300.03 L394.20,300.05 L394.50,300.09 L395.00,300.15 L395.50,300.22 L396.00,300.29 L396.50,300.36 L397.00,300.43 L397.50,300.49 L398.00,300.56 L398.50,300.62 L399.00,300.68 L399.50,300.73 L400.00,300.78 L400.20,300.80 L400.50,300.83 L401.00,300.87 L401.50,300.91 L402.00,300.96 L402.50,301.00 L403.00,301.04 L403.50,301.08 L404.00,301.11 L404.50,301.15 L405.00,301.18 L405.50,301.22 L406.00,301.25 L406.50,301.28 L407.00,301.31 L407.50,301.33 L408.00,301.35 L408.50,301.38 L409.00,301.39 L409.20,301.40 L409.50,301.41 L410.00,301.43 L410.50,301.44 L411.00,301.46 L411.50,301.47 L412.00,301.48 L412.50,301.50 L413.00,301.51 L413.50,301.52 L414.00,301.53 L414.50,301.54 L415.00,301.54 L415.50,301.55 L416.00,301.55 L416.20,301.55 L416.50,301.55 L417.00,301.55 L417.50,301.55 L418.00,301.55 L418.50,301.54 L419.00,301.54 L419.50,301.54 L420.00,301.54 L420.50,301.53 L421.00,301.53 L421.50,301.53 L422.00,301.52 L422.50,301.52 L423.00,301.51 L423.50,301.51 L424.00,301.50 L424.20,301.50 L424.50,301.50 L425.00,301.49 L425.50,301.48 L426.00,301.47 L426.50,301.46 L427.00,301.44 L427.50,301.43 L428.00,301.41 L428.50,301.39 L429.00,301.38 L429.50,301.36 L430.00,301.34 L430.50,301.32 L431.00,301.31 L431.20,301.30 L431.50,301.29 L432.00,301.27 L432.50,301.26 L433.00,301.24 L433.50,301.23 L434.00,301.21 L434.50,301.19 L435.00,301.17 L435.50,301.16 L436.00,301.14 L436.50,301.12 L437.00,301.10 L437.50,301.08 L438.00,301.06 L438.50,301.03 L439.00,301.01 L439.20,301.00 L439.50,300.98 L440.00,300.96 L440.50,300.93 L441.00,300.90 L441.50,300.87 L442.00,300.83 L442.50,300.80 L443.00,300.76 L443.50,300.73 L444.00,300.69 L444.50,300.65 L445.00,300.61 L445.20,300.60 L445.50,300.58 L446.00,300.54 L446.50,300.50 L447.00,300.46 L447.50,300.42 L448.00,300.38 L448.50,300.34 L449.00,300.30 L449.50,300.26 L450.00,300.21 L450.50,300.17 L451.00,300.13 L451.50,300.09 L452.00,300.04 L452.50,300.00 L453.00,299.95 L453.50,299.91 L454.00,299.87 L454.20,299.85 L454.50,299.82 L455.00,299.78 L455.50,299.74 L456.00,299.69 L456.50,299.65 L457.00,299.60 L457.50,299.56 L458.00,299.51 L458.50,299.47 L459.00,299.42 L459.20,299.40 L459.50,299.37 L460.00,299.32 L460.50,299.28 L461.00,299.23 L461.50,299.18 L462.00,299.13 L462.50,299.08 L463.00,299.03 L463.50,298.98 L464.00,298.93 L464.50,298.88 L465.00,298.83 L465.50,298.78 L466.00,298.73 L466.50,298.67 L467.00,298.62 L467.50,298.56 L468.00,298.50 L468.50,298.44 L469.00,298.38 L469.50,298.31 L470.00,298.25 L470.50,298.18 L471.00,298.11 L471.50,298.04 L472.00,297.97 L472.50,297.90 L473.00,297.83 L473.20,297.80 L473.50,297.76 L474.00,297.68 L474.50,297.61 L475.00,297.54 L475.50,297.46 L476.00,297.39 L476.50,297.31 L477.00,297.23 L477.50,297.15 L478.00,297.07 L478.50,296.99 L479.00,296.91 L479.50,296.83 L480.00,296.75 L480.50,296.67 L480.90,296.60 L481.00,296.58 L481.50,296.50 L482.00,296.41 L482.50,296.33" fill="none" stroke="#00ff00" stroke-width="1.45" stroke-dasharray="3.9 1.7"/>
<path d="M49.70,292.40 L50.70,292.51 L51.70,292.63 L52.70,292.74 L53.70,292.86 L54.10,292.90 L54.70,292.97 L55.70,293.08 L56.70,293.18 L57.70,293.29 L58.70,293.39 L59.70,293.50 L60.70,293.60 L61.70,293.70 L62.70,293.80 L63.70,293.89 L64.70,293.98 L65.70,294.07 L66.00,294.10 L66.70,294.16 L67.70,294.25 L68.70,294.35 L69.70,294.44 L70.70,294.54 L71.70,294.63 L72.70,294.72 L73.70,294.81 L74.70,294.89 L75.70,294.96 L76.70,295.03 L77.70,295.09 L78.70,295.15 L79.70,295.19 L80.00,295.20 L80.70,295.22 L81.70,295.26 L82.70,295.29 L83.70,295.32 L84.70,295.35 L85.70,295.38 L86.70,295.40 L87.70,295.42 L88.70,295.45 L89.70,295.46 L90.70,295.48 L91.70,295.49 L92.70,295.50 L93.70,295.50 L94.00,295.50 L94.70,295.50 L95.70,295.50 L96.70,295.50 L97.70,295.49 L98.70,295.49 L99.70,295.48 L100.70,295.47 L101.70,295.47 L102.70,295.46 L103.70,295.45 L104.70,295.44 L105.70,295.43 L106.70,295.42 L107.70,295.40 L108.00,295.40 L108.70,295.39 L109.70,295.37 L110.70,295.35 L111.70,295.32 L112.70,295.29 L113.70,295.25 L114.70,295.21 L115.00,295.20 L115.70,295.17 L116.70,295.12 L117.70,295.06 L118.70,294.99 L119.70,294.92 L120.70,294.84 L121.70,294.77 L122.70,294.69 L123.70,294.62 L124.00,294.60 L124.70,294.55 L125.70,294.48 L126.70,294.41 L127.70,294.34 L128.70,294.27 L129.70,294.20 L130.70,294.13 L131.70,294.05 L132.70,293.98 L133.70,293.91 L134.70,293.84 L135.70,293.77 L136.70,293.69 L137.70,293.62 L138.00,293.60 L138.70,293.55 L139.70,293.48 L140.70,293.41 L141.70,293.34 L142.70,293.28 L143.70,293.21 L144.70,293.14 L145.70,293.07 L146.70,293.00 L147.70,292.93 L148.70,292.86 L149.70,292.78 L150.70,292.71 L151.70,292.62 L152.00,292.60 L152.70,292.54 L153.70,292.45 L154.70,292.35 L155.70,292.25 L156.70,292.15 L157.70,292.04 L158.70,291.93 L159.70,291.82 L160.70,291.72 L161.70,291.61 L162.70,291.51 L163.70,291.41 L164.70,291.31 L165.70,291.23 L166.00,291.20 L166.70,291.14 L167.70,291.06 L168.70,290.98 L169.70,290.90 L170.70,290.82 L171.70,290.74 L172.70,290.68 L173.70,290.61 L174.70,290.55 L175.70,290.50 L175.80,290.50 L176.70,290.46 L177.70,290.41 L178.70,290.37 L179.70,290.33 L180.70,290.29 L181.70,290.25 L182.70,290.23 L183.70,290.21 L184.70,290.20 L185.00,290.20 L185.70,290.20 L186.70,290.20 L187.70,290.20 L188.70,290.21 L189.70,290.21 L190.70,290.22 L191.70,290.22 L192.70,290.23 L193.70,290.24 L194.70,290.25 L195.00,290.25 L195.70,290.26 L196.70,290.28 L197.70,290.31 L198.70,290.35 L199.70,290.40 L200.70,290.45 L201.70,290.51 L202.70,290.57 L203.70,290.63 L204.70,290.68 L205.00,290.70 L205.70,290.74 L206.70,290.80 L207.70,290.87 L208.70,290.94 L209.70,291.02 L210.70,291.09 L211.70,291.18 L212.70,291.26 L213.70,291.34 L214.70,291.43 L215.70,291.51 L216.70,291.60 L217.70,291.69 L218.70,291.77 L219.00,291.80 L219.70,291.86 L220.70,291.95 L221.70,292.04 L222.70,292.14 L223.70,292.23 L224.70,292.33 L225.70,292.43 L226.70,292.53 L227.70,292.62 L228.70,292.72 L229.70,292.81 L230.70,292.90 L231.70,292.99 L232.70,293.08 L233.00,293.10 L233.70,293.16 L234.70,293.24 L235.70,293.31 L236.70,293.39 L237.70,293.46 L238.70,293.54 L239.70,293.61 L240.70,293.68 L241.70,293.75 L242.70,293.82 L243.70,293.89 L244.70,293.95 L245.70,294.02 L246.70,294.08 L247.00,294.10 L247.70,294.15 L248.70,294.21 L249.70,294.28 L250.70,294.35 L251.70,294.41 L252.70,294.48 L253.70,294.54 L254.70,294.61 L255.70,294.67 L256.70,294.72 L257.70,294.77 L258.70,294.82 L259.70,294.86 L260.70,294.89 L261.00,294.90 L261.70,294.92 L262.70,294.94 L263.70,294.96 L264.70,294.98 L265.70,295.00 L266.10,295.00 L266.50,295.00 L267.50,294.98 L268.50,294.96 L269.50,294.94 L270.50,294.92 L271.20,294.90 L271.50,294.89 L272.50,294.86 L273.50,294.82 L274.50,294.77 L275.50,294.72 L276.50,294.67 L277.50,294.61 L278.50,294.54 L279.50,294.48 L280.50,294.41 L281.50,294.35 L282.50,294.28 L283.50,294.21 L284.50,294.15 L285.20,294.10 L285.50,294.08 L286.50,294.02 L287.50,293.95 L288.50,293.89 L289.50,293.82 L290.50,293.75 L291.50,293.68 L292.50,293.61 L293.50,293.54 L294.50,293.46 L295.50,293.39 L296.50,293.31 L297.50,293.24 L298.50,293.16 L299.20,293.10 L299.50,293.08 L300.50,292.99 L301.50,292.90 L302.50,292.81 L303.50,292.72 L304.50,292.62 L305.50,292.53 L306.50,292.43 L307.50,292.33 L308.50,292.23 L309.50,292.14 L310.50,292.04 L311.50,291.95 L312.50,291.86 L313.20,291.80 L313.50,291.77 L314.50,291.69 L315.50,291.60 L316.50,291.51 L317.50,291.43 L318.50,291.34 L319.50,291.26 L320.50,291.18 L321.50,291.09 L322.50,291.02 L323.50,290.94 L324.50,290.87 L325.50,290.80 L326.50,290.74 L327.20,290.70 L327.50,290.68 L328.50,290.63 L329.50,290.57 L330.50,290.51 L331.50,290.45 L332.50,290.40 L333.50,290.35 L334.50,290.31 L335.50,290.28 L336.50,290.26 L337.20,290.25 L337.50,290.25 L338.50,290.24 L339.50,290.23 L340.50,290.22 L341.50,290.22 L342.50,290.21 L343.50,290.21 L344.50,290.20 L345.50,290.20 L346.50,290.20 L347.20,290.20 L347.50,290.20 L348.50,290.21 L349.50,290.23 L350.50,290.25 L351.50,290.29 L352.50,290.33 L353.50,290.37 L354.50,290.41 L355.50,290.46 L356.40,290.50 L356.50,290.50 L357.50,290.55 L358.50,290.61 L359.50,290.68 L360.50,290.74 L361.50,290.82 L362.50,290.90 L363.50,290.98 L364.50,291.06 L365.50,291.14 L366.20,291.20 L366.50,291.23 L367.50,291.31 L368.50,291.41 L369.50,291.51 L370.50,291.61 L371.50,291.72 L372.50,291.82 L373.50,291.93 L374.50,292.04 L375.50,292.15 L376.50,292.25 L377.50,292.35 L378.50,292.45 L379.50,292.54 L380.20,292.60 L380.50,292.62 L381.50,292.71 L382.50,292.78 L383.50,292.86 L384.50,292.93 L385.50,293.00 L386.50,293.07 L387.50,293.14 L388.50,293.21 L389.50,293.28 L390.50,293.34 L391.50,293.41 L392.50,293.48 L393.50,293.55 L394.20,293.60 L394.50,293.62 L395.50,293.69 L396.50,293.77 L397.50,293.84 L398.50,293.91 L399.50,293.98 L400.50,294.05 L401.50,294.13 L402.50,294.20 L403.50,294.27 L404.50,294.34 L405.50,294.41 L406.50,294.48 L407.50,294.55 L408.20,294.60 L408.50,294.62 L409.50,294.69 L410.50,294.77 L411.50,294.84 L412.50,294.92 L413.50,294.99 L414.50,295.06 L415.50,295.12 L416.50,295.17 L417.20,295.20 L417.50,295.21 L418.50,295.25 L419.50,295.29 L420.50,295.32 L421.50,295.35 L422.50,295.37 L423.50,295.39 L424.20,295.40 L424.50,295.40 L425.50,295.42 L426.50,295.43 L427.50,295.44 L428.50,295.45 L429.50,295.46 L430.50,295.47 L431.50,295.47 L432.50,295.48 L433.50,295.49 L434.50,295.49 L435.50,295.50 L436.50,295.50 L437.50,295.50 L438.20,295.50 L438.50,295.50 L439.50,295.50 L440.50,295.49 L441.50,295.48 L442.50,295.46 L443.50,295.45 L444.50,295.42 L445.50,295.40 L446.50,295.38 L447.50,295.35 L448.50,295.32 L449.50,295.29 L450.50,295.26 L451.50,295.22 L452.20,295.20 L452.50,295.19 L453.50,295.15 L454.50,295.09 L455.50,295.03 L456.50,294.96 L457.50,294.89 L458.50,294.81 L459.50,294.72 L460.50,294.63 L461.50,294.54 L462.50,294.44 L463.50,294.35 L464.50,294.25 L465.50,294.16 L466.20,294.10 L466.50,294.07 L467.50,293.98 L468.50,293.89 L469.50,293.80 L470.50,293.70 L471.50,293.60 L472.50,293.50 L473.50,293.39 L474.50,293.29 L475.50,293.18 L476.50,293.08 L477.50,292.97 L478.10,292.90 L478.50,292.86 L479.50,292.74 L480.50,292.63 L481.50,292.51 L482.50,292.40" fill="none" stroke="#0000ff" stroke-width="1.8" stroke-linecap="round" stroke-dasharray="0.1 4.07"/>
<path d="M49.70,285.26 L50.70,285.35 L51.30,285.40 L51.70,285.43 L52.70,285.52 L53.70,285.60 L54.70,285.68 L55.70,285.76 L56.70,285.84 L57.70,285.91 L58.70,285.99 L59.70,286.06 L60.70,286.14 L61.70,286.21 L62.70,286.28 L63.70,286.35 L64.70,286.41 L65.70,286.48 L66.00,286.50 L66.70,286.54 L67.70,286.61 L68.70,286.67 L69.70,286.73 L70.70,286.79 L71.70,286.85 L72.70,286.90 L73.70,286.96 L74.70,287.01 L75.70,287.07 L76.70,287.12 L77.70,287.18 L78.70,287.23 L79.70,287.28 L80.00,287.30 L80.70,287.34 L81.70,287.39 L82.70,287.44 L83.70,287.49 L84.70,287.55 L85.70,287.60 L86.70,287.65 L87.70,287.70 L88.70,287.75 L89.70,287.79 L90.70,287.84 L91.70,287.89 L92.70,287.94 L93.70,287.99 L94.00,288.00 L94.70,288.03 L95.70,288.08 L96.70,288.13 L97.70,288.18 L98.70,288.23 L99.70,288.28 L100.70,288.33 L101.70,288.38 L102.70,288.43 L103.70,288.48 L104.70,288.52 L105.70,288.56 L106.70,288.60 L107.70,288.64 L108.70,288.67 L109.70,288.69 L110.00,288.70 L110.70,288.72 L111.70,288.74 L112.70,288.76 L113.70,288.78 L114.70,288.80 L115.70,288.82 L116.70,288.84 L117.70,288.86 L118.70,288.87 L119.70,288.89 L120.70,288.91 L121.70,288.92 L122.70,288.94 L123.70,288.95 L124.70,288.97 L125.70,288.98 L126.70,288.99 L127.70,289.01 L128.70,289.02 L129.70,289.03 L130.70,289.04 L131.70,289.06 L132.70,289.07 L133.70,289.08 L134.70,289.09 L135.70,289.10 L136.70,289.11 L137.70,289.12 L138.70,289.13 L139.70,289.14 L140.70,289.15 L141.70,289.16 L142.70,289.18 L143.70,289.19 L144.70,289.20 L145.00,289.20 L145.70,289.21 L146.70,289.22 L147.70,289.23 L148.70,289.24 L149.70,289.25 L150.70,289.26 L151.70,289.27 L152.70,289.28 L153.70,289.29 L154.70,289.30 L155.70,289.31 L156.70,289.32 L157.70,289.33 L158.70,289.34 L159.70,289.35 L160.70,289.36 L161.70,289.37 L162.70,289.38 L163.70,289.38 L164.70,289.39 L165.70,289.40 L166.70,289.41 L167.70,289.42 L168.70,289.43 L169.70,289.43 L170.70,289.44 L171.70,289.45 L172.70,289.45 L173.70,289.46 L174.70,289.47 L175.70,289.47 L176.70,289.48 L177.70,289.49 L178.70,289.49 L179.70,289.50 L180.00,289.50 L180.70,289.50 L181.70,289.51 L182.70,289.51 L183.70,289.52 L184.70,289.53 L185.70,289.53 L186.70,289.54 L187.70,289.54 L188.70,289.55 L189.70,289.55 L190.70,289.56 L191.70,289.56 L192.70,289.57 L193.70,289.57 L194.70,289.58 L195.70,289.58 L196.70,289.58 L197.70,289.59 L198.70,289.59 L199.70,289.59 L200.70,289.60 L201.70,289.60 L202.70,289.60 L203.70,289.60 L204.70,289.60 L205.00,289.60 L205.70,289.60 L206.70,289.60 L207.70,289.60 L208.70,289.60 L209.70,289.60 L210.70,289.60 L211.70,289.60 L212.70,289.60 L213.70,289.60 L214.70,289.60 L215.70,289.60 L216.70,289.60 L217.70,289.60 L218.70,289.60 L219.70,289.60 L220.70,289.60 L221.70,289.60 L222.70,289.60 L223.70,289.60 L224.70,289.60 L225.70,289.60 L226.70,289.60 L227.70,289.60 L228.70,289.60 L229.70,289.60 L230.70,289.60 L231.70,289.60 L232.70,289.60 L233.70,289.60 L234.70,289.60 L235.70,289.60 L236.70,289.60 L237.70,289.60 L238.70,289.60 L239.70,289.60 L240.70,289.60 L241.70,289.60 L242.70,289.60 L243.70,289.60 L244.70,289.60 L245.70,289.60 L246.70,289.60 L247.70,289.60 L248.70,289.60 L249.70,289.60 L250.70,289.60 L251.70,289.60 L252.70,289.60 L253.70,289.60 L254.70,289.60 L255.70,289.60 L256.70,289.60 L257.70,289.60 L258.70,289.60 L259.70,289.60 L260.70,289.60 L261.70,289.60 L262.70,289.60 L263.70,289.60 L264.70,289.60 L265.70,289.60 L266.10,289.60 L266.50,289.60 L267.50,289.60 L268.50,289.60 L269.50,289.60 L270.50,289.60 L271.50,289.60 L272.50,289.60 L273.50,289.60 L274.50,289.60 L275.50,289.60 L276.50,289.60 L277.50,289.60 L278.50,289.60 L279.50,289.60 L280.50,289.60 L281.50,289.60 L282.50,289.60 L283.50,289.60 L284.50,289.60 L285.50,289.60 L286.50,289.60 L287.50,289.60 L288.50,289.60 L289.50,289.60 L290.50,289.60 L291.50,289.60 L292.50,289.60 L293.50,289.60 L294.50,289.60 L295.50,289.60 L296.50,289.60 L297.50,289.60 L298.50,289.60 L299.50,289.60 L300.50,289.60 L301.50,289.60 L302.50,289.60 L303.50,289.60 L304.50,289.60 L305.50,289.60 L306.50,289.60 L307.50,289.60 L308.50,289.60 L309.50,289.60 L310.50,289.60 L311.50,289.60 L312.50,289.60 L313.50,289.60 L314.50,289.60 L315.50,289.60 L316.50,289.60 L317.50,289.60 L318.50,289.60 L319.50,289.60 L320.50,289.60 L321.50,289.60 L322.50,289.60 L323.50,289.60 L324.50,289.60 L325.50,289.60 L326.50,289.60 L327.20,289.60 L327.50,289.60 L328.50,289.60 L329.50,289.60 L330.50,289.60 L331.50,289.60 L332.50,289.59 L333.50,289.59 L334.50,289.59 L335.50,289.58 L336.50,289.58 L337.50,289.58 L338.50,289.57 L339.50,289.57 L340.50,289.56 L341.50,289.56 L342.50,289.55 L343.50,289.55 L344.50,289.54 L345.50,289.54 L346.50,289.53 L347.50,289.53 L348.50,289.52 L349.50,289.51 L350.50,289.51 L351.50,289.50 L352.20,289.50 L352.50,289.50 L353.50,289.49 L354.50,289.49 L355.50,289.48 L356.50,289.47 L357.50,289.47 L358.50,289.46 L359.50,289.45 L360.50,289.45 L361.50,289.44 L362.50,289.43 L363.50,289.43 L364.50,289.42 L365.50,289.41 L366.50,289.40 L367.50,289.39 L368.50,289.38 L369.50,289.38 L370.50,289.37 L371.50,289.36 L372.50,289.35 L373.50,289.34 L374.50,289.33 L375.50,289.32 L376.50,289.31 L377.50,289.30 L378.50,289.29 L379.50,289.28 L380.50,289.27 L381.50,289.26 L382.50,289.25 L383.50,289.24 L384.50,289.23 L385.50,289.22 L386.50,289.21 L387.20,289.20 L387.50,289.20 L388.50,289.19 L389.50,289.18 L390.50,289.16 L391.50,289.15 L392.50,289.14 L393.50,289.13 L394.50,289.12 L395.50,289.11 L396.50,289.10 L397.50,289.09 L398.50,289.08 L399.50,289.07 L400.50,289.06 L401.50,289.04 L402.50,289.03 L403.50,289.02 L404.50,289.01 L405.50,288.99 L406.50,288.98 L407.50,288.97 L408.50,288.95 L409.50,288.94 L410.50,288.92 L411.50,288.91 L412.50,288.89 L413.50,288.87 L414.50,288.86 L415.50,288.84 L416.50,288.82 L417.50,288.80 L418.50,288.78 L419.50,288.76 L420.50,288.74 L421.50,288.72 L422.20,288.70 L422.50,288.69 L423.50,288.67 L424.50,288.64 L425.50,288.60 L426.50,288.56 L427.50,288.52 L428.50,288.48 L429.50,288.43 L430.50,288.38 L431.50,288.33 L432.50,288.28 L433.50,288.23 L434.50,288.18 L435.50,288.13 L436.50,288.08 L437.50,288.03 L438.20,288.00 L438.50,287.99 L439.50,287.94 L440.50,287.89 L441.50,287.84 L442.50,287.79 L443.50,287.75 L444.50,287.70 L445.50,287.65 L446.50,287.60 L447.50,287.55 L448.50,287.49 L449.50,287.44 L450.50,287.39 L451.50,287.34 L452.20,287.30 L452.50,287.28 L453.50,287.23 L454.50,287.18 L455.50,287.12 L456.50,287.07 L457.50,287.01 L458.50,286.96 L459.50,286.90 L460.50,286.85 L461.50,286.79 L462.50,286.73 L463.50,286.67 L464.50,286.61 L465.50,286.54 L466.20,286.50 L466.50,286.48 L467.50,286.41 L468.50,286.35 L469.50,286.28 L470.50,286.21 L471.50,286.14 L472.50,286.06 L473.50,285.99 L474.50,285.91 L475.50,285.84 L476.50,285.76 L477.50,285.68 L478.50,285.60 L479.50,285.52 L480.50,285.43 L480.90,285.40 L481.50,285.35 L482.50,285.26" fill="none" stroke="#ff00ff" stroke-width="1.4" stroke-dasharray="0.9 0.9"/>

<rect x="49.7" y="186.85" width="433.70" height="133.80" fill="none" stroke="#000" stroke-width="2.5"/>
<path d="M49.70,320.65 v-4.6 M49.70,186.85 v4.6 M158.12,320.65 v-4.6 M158.12,186.85 v4.6 M266.55,320.65 v-4.6 M266.55,186.85 v4.6 M374.97,320.65 v-4.6 M374.97,186.85 v4.6 M483.40,320.65 v-4.6 M483.40,186.85 v4.6 M49.7,320.65 h4.6 M483.4,320.65 h-4.6 M49.7,287.20 h4.6 M483.4,287.20 h-4.6 M49.7,253.75 h4.6 M483.4,253.75 h-4.6 M49.7,220.30 h4.6 M483.4,220.30 h-4.6 M49.7,186.85 h4.6 M483.4,186.85 h-4.6" stroke="#000" stroke-width="2.2" fill="none"/>

</g>
<g style="filter:grayscale(1)">
<text x="49.70" y="159.35" text-anchor="middle">-1.0</text>
<text x="158.12" y="159.35" text-anchor="middle">-0.5</text>
<text x="266.55" y="159.35" text-anchor="middle">0.0</text>
<text x="374.97" y="159.35" text-anchor="middle">0.5</text>
<text x="483.40" y="159.35" text-anchor="middle">1.0</text>
<text x="266.55" y="173.05" text-anchor="middle">eV</text>

<text x="43.4" y="149.10" text-anchor="end">0.05</text>
<text x="43.4" y="104.50" text-anchor="end">0.07</text>
<text x="43.4" y="59.90" text-anchor="end">0.09</text>
<text x="43.4" y="15.30" text-anchor="end">0.11</text>
<text transform="translate(14.0,79.25) rotate(-90)" text-anchor="middle" letter-spacing="0.25">dI/dV [e<tspan dy="-5.4" font-size="9.6">2</tspan><tspan dy="5.4">/h]</tspan></text>

<text class="big" x="104.2" y="37.8">a)   HM</text>

<text x="212.0" y="26.2">T = 0.001</text>
<text x="233.2" y="43.0">0.01</text>
<text x="233.2" y="59.8">0.1</text>
<text x="233.2" y="76.6">0.2</text>

<text x="49.70" y="334.35" text-anchor="middle">-1.0</text>
<text x="158.12" y="334.35" text-anchor="middle">-0.5</text>
<text x="266.55" y="334.35" text-anchor="middle">0.0</text>
<text x="374.97" y="334.35" text-anchor="middle">0.5</text>
<text x="483.40" y="334.35" text-anchor="middle">1.0</text>
<text x="266.55" y="348.05" text-anchor="middle">eV</text>

<text x="43.4" y="324.10" text-anchor="end">0.35</text>
<text x="43.4" y="290.65" text-anchor="end">0.45</text>
<text x="43.4" y="257.20" text-anchor="end">0.55</text>
<text x="43.4" y="223.75" text-anchor="end">0.65</text>
<text x="43.4" y="190.30" text-anchor="end">0.75</text>
<text transform="translate(14.0,254.25) rotate(-90)" text-anchor="middle" letter-spacing="0.25">dI/dV [e<tspan dy="-5.4" font-size="9.6">2</tspan><tspan dy="5.4">/h]</tspan></text>

<text class="big" x="104.2" y="212.8">b)   FM</text>
</g>
</svg>
</body></html>
